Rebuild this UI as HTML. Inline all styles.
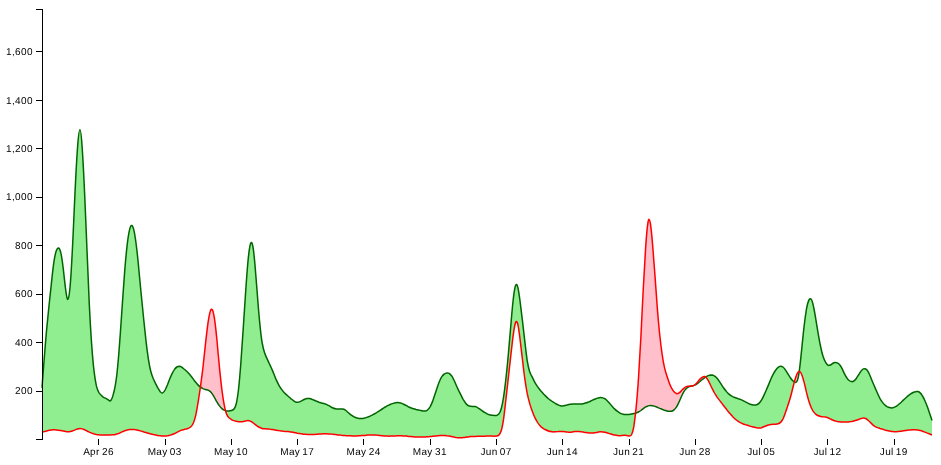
<!DOCTYPE html>
<html><head><meta charset="utf-8"><title>Difference Chart</title>
<style>
html,body{margin:0;padding:0;background:#fff;}
body{font:10px "Liberation Sans",Arial,sans-serif;}
svg{display:block;}
.axis path,.axis line{fill:none;stroke:#000;shape-rendering:crispEdges;}
.x.axis path{display:none;}
.axis text{font:10px "Liberation Sans",Arial,sans-serif;fill:#000;text-rendering:geometricPrecision;}
.y.axis text{letter-spacing:.44px;}
.x.axis text{letter-spacing:.3px;word-spacing:-.8px;}
 .x.axis tspan{letter-spacing:.44px;}
.line{fill:none;stroke-width:1.5px;}
</style></head><body>
<svg width="941" height="465" viewBox="0 0 941 465">
<defs>
<clipPath id="clip-below-green"><path d="M42.0,387.7C42.0,387.7,42.0,387.7,42.4,382.4C42.8,377.0,43.6,366.3,44.4,356.4C45.2,346.5,45.9,337.3,46.7,328.9C47.5,320.4,48.3,312.5,49.1,304.9C49.9,297.2,50.7,289.6,51.5,282.3C52.3,275.1,53.0,268.2,53.8,262.7C54.6,257.3,55.4,253.3,56.2,251.0C57.0,248.6,57.8,247.8,58.6,248.0C59.4,248.3,60.1,249.6,60.9,253.1C61.7,256.7,62.5,262.4,63.3,269.2C64.1,275.9,64.9,283.8,65.7,289.8C66.5,295.8,67.2,300.0,68.0,299.3C68.8,298.6,69.6,293.1,70.4,282.9C71.2,272.6,72.0,257.7,72.8,241.3C73.6,225.0,74.3,207.1,75.1,190.7C75.9,174.2,76.7,159.1,77.5,148.0C78.3,136.9,79.1,129.7,79.9,129.7C80.7,129.7,81.5,136.9,82.2,148.2C83.0,159.6,83.8,175.2,84.6,193.0C85.4,210.8,86.2,230.9,87.0,250.2C87.8,269.6,88.6,288.3,89.3,304.4C90.1,320.5,90.9,334.0,91.7,345.1C92.5,356.2,93.3,365.0,94.1,371.6C94.9,378.2,95.7,382.7,96.4,385.9C97.2,389.1,98.0,390.9,98.8,392.3C99.6,393.6,100.4,394.5,101.2,395.3C102.0,396.1,102.8,396.8,103.5,397.3C104.3,397.7,105.1,398.0,105.9,398.4C106.7,398.8,107.5,399.3,108.3,399.9C109.1,400.5,109.9,401.3,110.6,400.7C111.4,400.1,112.2,398.1,113.0,395.4C113.8,392.8,114.6,389.5,115.4,384.9C116.2,380.3,117.0,374.4,117.7,366.2C118.5,358.1,119.3,347.6,120.1,336.5C120.9,325.3,121.7,313.4,122.5,301.9C123.3,290.5,124.1,279.6,124.8,269.8C125.6,260.0,126.4,251.5,127.2,244.6C128.0,237.8,128.8,232.8,129.6,229.6C130.4,226.4,131.2,225.0,131.9,225.5C132.7,225.9,133.5,228.2,134.3,232.1C135.1,236.1,135.9,241.9,136.7,248.7C137.5,255.4,138.3,263.3,139.0,271.4C139.8,279.5,140.6,288.0,141.4,296.3C142.2,304.6,143.0,312.7,143.8,320.3C144.6,327.9,145.4,335.2,146.1,341.9C146.9,348.6,147.7,354.8,148.5,359.8C149.3,364.9,150.1,368.8,150.9,371.7C151.7,374.7,152.5,376.7,153.2,378.5C154.0,380.4,154.8,382.0,155.6,383.6C156.4,385.2,157.2,386.7,158.0,388.2C158.8,389.6,159.6,391.0,160.4,391.9C161.1,392.8,161.9,393.3,162.7,392.9C163.5,392.6,164.3,391.4,165.1,390.0C165.9,388.5,166.7,386.7,167.5,384.8C168.2,382.9,169.0,380.8,169.8,378.8C170.6,376.9,171.4,375.0,172.2,373.4C173.0,371.8,173.8,370.4,174.6,369.4C175.3,368.3,176.1,367.5,176.9,367.0C177.7,366.5,178.5,366.3,179.3,366.3C180.1,366.4,180.9,366.7,181.7,367.2C182.4,367.7,183.2,368.3,184.0,369.0C184.8,369.6,185.6,370.3,186.4,371.0C187.2,371.8,188.0,372.5,188.8,373.4C189.5,374.2,190.3,375.2,191.1,376.2C191.9,377.2,192.7,378.3,193.5,379.4C194.3,380.4,195.1,381.5,195.9,382.4C196.6,383.4,197.4,384.3,198.2,385.1C199.0,385.9,199.8,386.6,200.6,387.2C201.4,387.8,202.2,388.2,203.0,388.6C203.7,388.9,204.5,389.2,205.3,389.4C206.1,389.6,206.9,389.8,207.7,390.0C208.5,390.3,209.3,390.7,210.1,391.4C210.8,392.0,211.6,392.9,212.4,394.1C213.2,395.3,214.0,396.7,214.8,398.2C215.6,399.6,216.4,401.1,217.2,402.4C217.9,403.7,218.7,404.9,219.5,405.9C220.3,407.0,221.1,407.8,221.9,408.6C222.7,409.3,223.5,409.8,224.3,410.2C225.0,410.6,225.8,410.9,226.6,411.0C227.4,411.1,228.2,411.1,229.0,411.0C229.8,411.0,230.6,410.8,231.4,410.6C232.2,410.4,232.9,410.2,233.7,409.4C234.5,408.6,235.3,407.4,236.1,404.3C236.9,401.2,237.7,396.3,238.5,389.5C239.3,382.7,240.0,374.0,240.8,363.7C241.6,353.3,242.4,341.4,243.2,329.1C244.0,316.8,244.8,304.2,245.6,292.6C246.4,281.0,247.1,270.6,247.9,262.2C248.7,253.8,249.5,247.5,250.3,244.5C251.1,241.5,251.9,241.8,252.7,245.5C253.5,249.2,254.2,256.2,255.0,265.1C255.8,274.1,256.6,284.8,257.4,295.2C258.2,305.6,259.0,315.5,259.8,323.6C260.6,331.7,261.3,337.9,262.1,342.5C262.9,347.1,263.7,350.2,264.5,352.6C265.3,355.0,266.1,356.8,266.9,358.4C267.7,360.1,268.4,361.6,269.2,363.3C270.0,364.9,270.8,366.7,271.6,368.5C272.4,370.4,273.2,372.4,274.0,374.3C274.8,376.2,275.5,378.1,276.3,379.9C277.1,381.7,277.9,383.3,278.7,384.8C279.5,386.3,280.3,387.6,281.1,388.7C281.9,389.8,282.6,390.8,283.4,391.7C284.2,392.6,285.0,393.4,285.8,394.1C286.6,394.8,287.4,395.5,288.2,396.2C289.0,396.9,289.7,397.6,290.5,398.3C291.3,398.9,292.1,399.6,292.9,400.2C293.7,400.9,294.5,401.4,295.3,401.8C296.1,402.2,296.8,402.4,297.6,402.3C298.4,402.3,299.2,402.0,300.0,401.6C300.8,401.3,301.6,400.8,302.4,400.4C303.2,399.9,304.0,399.5,304.7,399.2C305.5,398.9,306.3,398.7,307.1,398.6C307.9,398.5,308.7,398.5,309.5,398.6C310.3,398.7,311.1,399.0,311.8,399.3C312.6,399.6,313.4,399.9,314.2,400.3C315.0,400.6,315.8,400.9,316.6,401.3C317.4,401.6,318.2,401.9,318.9,402.2C319.7,402.4,320.5,402.7,321.3,402.9C322.1,403.1,322.9,403.3,323.7,403.5C324.5,403.7,325.3,403.9,326.0,404.2C326.8,404.6,327.6,404.9,328.4,405.4C329.2,405.8,330.0,406.3,330.8,406.8C331.6,407.3,332.4,407.7,333.1,408.0C333.9,408.4,334.7,408.6,335.5,408.8C336.3,409.0,337.1,409.0,337.9,409.0C338.7,409.0,339.5,409.0,340.2,409.0C341.0,409.0,341.8,409.0,342.6,409.1C343.4,409.2,344.2,409.4,345.0,409.9C345.8,410.4,346.6,411.0,347.3,411.7C348.1,412.4,348.9,413.2,349.7,413.9C350.5,414.6,351.3,415.2,352.1,415.7C352.9,416.2,353.7,416.6,354.4,417.0C355.2,417.4,356.0,417.7,356.8,417.9C357.6,418.2,358.4,418.4,359.2,418.5C360.0,418.6,360.8,418.6,361.5,418.6C362.3,418.6,363.1,418.5,363.9,418.3C364.7,418.1,365.5,417.9,366.3,417.6C367.1,417.4,367.9,417.1,368.6,416.7C369.4,416.4,370.2,416.0,371.0,415.6C371.8,415.3,372.6,414.9,373.4,414.4C374.2,414.0,375.0,413.5,375.8,413.1C376.5,412.6,377.3,412.1,378.1,411.6C378.9,411.1,379.7,410.6,380.5,410.1C381.3,409.5,382.1,409.0,382.9,408.5C383.6,408.0,384.4,407.5,385.2,407.0C386.0,406.6,386.8,406.1,387.6,405.7C388.4,405.3,389.2,404.9,390.0,404.5C390.7,404.2,391.5,403.9,392.3,403.6C393.1,403.3,393.9,403.1,394.7,402.9C395.5,402.7,396.3,402.6,397.1,402.6C397.8,402.6,398.6,402.6,399.4,402.8C400.2,402.9,401.0,403.1,401.8,403.4C402.6,403.7,403.4,404.1,404.2,404.5C404.9,404.9,405.7,405.3,406.5,405.7C407.3,406.1,408.1,406.6,408.9,407.0C409.7,407.4,410.5,407.7,411.3,408.0C412.0,408.3,412.8,408.6,413.6,408.8C414.4,409.0,415.2,409.2,416.0,409.4C416.8,409.5,417.6,409.7,418.4,409.9C419.1,410.1,419.9,410.3,420.7,410.5C421.5,410.7,422.3,410.9,423.1,411.0C423.9,411.1,424.7,411.2,425.5,411.0C426.2,410.8,427.0,410.4,427.8,409.7C428.6,409.0,429.4,407.9,430.2,406.6C431.0,405.2,431.8,403.4,432.6,401.4C433.3,399.4,434.1,397.0,434.9,394.6C435.7,392.2,436.5,389.6,437.3,387.2C438.1,384.8,438.9,382.6,439.7,380.8C440.4,379.0,441.2,377.5,442.0,376.4C442.8,375.3,443.6,374.5,444.4,374.0C445.2,373.4,446.0,373.1,446.8,373.0C447.5,372.8,448.3,372.9,449.1,373.3C449.9,373.8,450.7,374.6,451.5,375.7C452.3,376.9,453.1,378.4,453.9,380.0C454.7,381.6,455.4,383.4,456.2,385.2C457.0,387.0,457.8,388.7,458.6,390.4C459.4,392.0,460.2,393.6,461.0,395.1C461.8,396.7,462.5,398.2,463.3,399.6C464.1,400.9,464.9,402.2,465.7,403.2C466.5,404.2,467.3,405.0,468.1,405.5C468.9,405.9,469.6,406.2,470.4,406.3C471.2,406.4,472.0,406.4,472.8,406.4C473.6,406.4,474.4,406.4,475.2,406.6C476.0,406.8,476.7,407.1,477.5,407.6C478.3,408.0,479.1,408.5,479.9,409.1C480.7,409.7,481.5,410.3,482.3,410.8C483.1,411.4,483.8,411.9,484.6,412.4C485.4,412.9,486.2,413.4,487.0,413.8C487.8,414.2,488.6,414.5,489.4,414.7C490.2,415.0,490.9,415.1,491.7,415.2C492.5,415.3,493.3,415.3,494.1,415.4C494.9,415.4,495.7,415.5,496.5,415.4C497.3,415.3,498.0,415.0,498.8,414.1C499.6,413.2,500.4,411.6,501.2,408.7C502.0,405.9,502.8,401.8,503.6,396.8C504.4,391.8,505.1,385.8,505.9,378.9C506.7,371.9,507.5,363.9,508.3,354.9C509.1,346.0,509.9,336.1,510.7,326.8C511.5,317.5,512.2,308.8,513.0,301.5C513.8,294.3,514.6,288.6,515.4,286.1C516.2,283.5,517.0,284.1,517.8,287.1C518.6,290.2,519.3,295.6,520.1,301.6C520.9,307.7,521.7,314.2,522.5,321.1C523.3,328.0,524.1,335.3,524.9,342.2C525.7,349.1,526.5,355.8,527.2,360.7C528.0,365.7,528.8,369.0,529.6,371.4C530.4,373.7,531.2,375.2,532.0,376.7C532.8,378.3,533.6,379.9,534.3,381.4C535.1,382.9,535.9,384.2,536.7,385.4C537.5,386.6,538.3,387.7,539.1,388.7C539.9,389.7,540.7,390.7,541.4,391.6C542.2,392.5,543.0,393.4,543.8,394.3C544.6,395.1,545.4,395.9,546.2,396.6C547.0,397.4,547.8,398.1,548.5,398.7C549.3,399.4,550.1,400.0,550.9,400.5C551.7,401.1,552.5,401.6,553.3,402.1C554.1,402.6,554.9,403.1,555.6,403.6C556.4,404.0,557.2,404.5,558.0,404.8C558.8,405.2,559.6,405.5,560.4,405.7C561.2,405.9,562.0,406.0,562.7,405.9C563.5,405.9,564.3,405.7,565.1,405.5C565.9,405.3,566.7,405.1,567.5,404.9C568.3,404.6,569.1,404.5,569.8,404.3C570.6,404.2,571.4,404.1,572.2,404.0C573.0,403.9,573.8,403.9,574.6,403.9C575.4,403.9,576.2,403.9,576.9,403.9C577.7,404.0,578.5,404.0,579.3,404.0C580.1,404.0,580.9,404.0,581.7,403.9C582.5,403.8,583.3,403.7,584.0,403.5C584.8,403.3,585.6,403.1,586.4,402.8C587.2,402.6,588.0,402.2,588.8,401.9C589.6,401.6,590.4,401.2,591.1,400.8C591.9,400.5,592.7,400.1,593.5,399.7C594.3,399.4,595.1,399.0,595.9,398.7C596.7,398.4,597.5,398.2,598.2,398.0C599.0,397.8,599.8,397.6,600.6,397.6C601.4,397.6,602.2,397.6,603.0,397.9C603.8,398.1,604.6,398.5,605.4,399.0C606.1,399.6,606.9,400.3,607.7,401.2C608.5,402.0,609.3,403.0,610.1,403.9C610.9,404.9,611.7,405.8,612.5,406.7C613.2,407.5,614.0,408.4,614.8,409.1C615.6,409.9,616.4,410.6,617.2,411.2C618.0,411.8,618.8,412.4,619.6,412.8C620.3,413.3,621.1,413.6,621.9,413.9C622.7,414.2,623.5,414.4,624.3,414.5C625.1,414.6,625.9,414.6,626.7,414.6C627.4,414.6,628.2,414.5,629.0,414.4C629.8,414.3,630.6,414.2,631.4,414.0C632.2,413.9,633.0,413.7,633.8,413.6C634.5,413.4,635.3,413.2,636.1,412.9C636.9,412.7,637.7,412.4,638.5,412.0C639.3,411.6,640.1,411.1,640.9,410.5C641.6,409.9,642.4,409.2,643.2,408.6C644.0,408.0,644.8,407.4,645.6,406.9C646.4,406.4,647.2,406.1,648.0,405.9C648.7,405.6,649.5,405.5,650.3,405.5C651.1,405.5,651.9,405.6,652.7,405.7C653.5,405.9,654.3,406.1,655.1,406.4C655.8,406.7,656.6,407.0,657.4,407.3C658.2,407.7,659.0,408.0,659.8,408.4C660.6,408.7,661.4,409.0,662.2,409.3C662.9,409.7,663.7,409.9,664.5,410.2C665.3,410.4,666.1,410.7,666.9,410.9C667.7,411.1,668.5,411.2,669.3,411.3C670.0,411.4,670.8,411.4,671.6,411.2C672.4,411.0,673.2,410.6,674.0,409.9C674.8,409.2,675.6,408.3,676.4,407.1C677.2,405.9,677.9,404.4,678.7,402.7C679.5,401.0,680.3,399.0,681.1,397.2C681.9,395.3,682.7,393.7,683.5,392.3C684.3,391.0,685.0,390.0,685.8,389.1C686.6,388.3,687.4,387.7,688.2,387.2C689.0,386.8,689.8,386.5,690.6,386.3C691.4,386.1,692.1,386.0,692.9,385.8C693.7,385.6,694.5,385.3,695.3,384.9C696.1,384.5,696.9,383.9,697.7,383.4C698.5,382.8,699.2,382.1,700.0,381.5C700.8,380.8,701.6,380.1,702.4,379.5C703.2,378.9,704.0,378.2,704.8,377.7C705.6,377.1,706.3,376.6,707.1,376.2C707.9,375.8,708.7,375.5,709.5,375.3C710.3,375.1,711.1,375.1,711.9,375.1C712.7,375.2,713.4,375.4,714.2,375.8C715.0,376.2,715.8,376.8,716.6,377.7C717.4,378.6,718.2,379.6,719.0,380.8C719.8,382.0,720.5,383.2,721.3,384.4C722.1,385.6,722.9,386.9,723.7,388.0C724.5,389.1,725.3,390.2,726.1,391.1C726.9,392.1,727.6,392.9,728.4,393.6C729.2,394.4,730.0,395.0,730.8,395.5C731.6,396.1,732.4,396.5,733.2,396.9C734.0,397.2,734.7,397.6,735.5,397.8C736.3,398.1,737.1,398.4,737.9,398.6C738.7,398.9,739.5,399.1,740.3,399.4C741.1,399.7,741.8,400.1,742.6,400.4C743.4,400.8,744.2,401.2,745.0,401.7C745.8,402.1,746.6,402.5,747.4,402.9C748.2,403.3,749.0,403.7,749.7,404.0C750.5,404.3,751.3,404.6,752.1,404.8C752.9,405.0,753.7,405.1,754.5,405.1C755.3,405.1,756.1,405.1,756.8,404.7C757.6,404.4,758.4,403.9,759.2,403.1C760.0,402.3,760.8,401.2,761.6,399.9C762.4,398.6,763.2,397.1,763.9,395.4C764.7,393.7,765.5,391.9,766.3,390.0C767.1,388.2,767.9,386.3,768.7,384.4C769.5,382.5,770.3,380.6,771.0,378.8C771.8,377.0,772.6,375.4,773.4,373.9C774.2,372.4,775.0,371.1,775.8,370.0C776.6,368.9,777.4,368.0,778.1,367.4C778.9,366.7,779.7,366.3,780.5,366.2C781.3,366.1,782.1,366.4,782.9,367.0C783.7,367.6,784.5,368.5,785.2,369.6C786.0,370.8,786.8,372.1,787.6,373.4C788.4,374.7,789.2,376.0,790.0,377.2C790.8,378.3,791.6,379.4,792.3,380.2C793.1,381.1,793.9,381.8,794.7,382.2C795.5,382.6,796.3,382.7,797.1,381.0C797.9,379.3,798.7,375.8,799.4,370.1C800.2,364.3,801.0,356.4,801.8,348.4C802.6,340.3,803.4,332.3,804.2,325.4C805.0,318.6,805.8,313.0,806.5,308.8C807.3,304.5,808.1,301.7,808.9,300.1C809.7,298.5,810.5,298.2,811.3,299.4C812.1,300.6,812.9,303.3,813.6,307.0C814.4,310.7,815.2,315.4,816.0,320.3C816.8,325.2,817.6,330.3,818.4,334.9C819.2,339.6,820.0,343.9,820.8,347.5C821.5,351.1,822.3,354.1,823.1,356.4C823.9,358.8,824.7,360.6,825.5,362.1C826.3,363.5,827.1,364.6,827.9,365.1C828.6,365.6,829.4,365.4,830.2,365.0C831.0,364.6,831.8,364.0,832.6,363.5C833.4,363.0,834.2,362.6,835.0,362.5C835.7,362.4,836.5,362.6,837.3,362.9C838.1,363.3,838.9,363.8,839.7,364.8C840.5,365.7,841.3,367.1,842.1,368.6C842.8,370.2,843.6,372.0,844.4,373.6C845.2,375.2,846.0,376.7,846.8,377.8C847.6,379.0,848.4,379.9,849.2,380.5C849.9,381.1,850.7,381.5,851.5,381.6C852.3,381.7,853.1,381.5,853.9,381.0C854.7,380.4,855.5,379.6,856.3,378.5C857.0,377.5,857.8,376.1,858.6,374.8C859.4,373.5,860.2,372.2,861.0,371.1C861.8,370.1,862.6,369.3,863.4,368.9C864.1,368.6,864.9,368.6,865.7,369.0C866.5,369.4,867.3,370.3,868.1,371.6C868.9,373.0,869.7,374.8,870.5,376.7C871.2,378.6,872.0,380.6,872.8,382.5C873.6,384.4,874.4,386.2,875.2,388.1C876.0,389.9,876.8,391.7,877.6,393.5C878.3,395.2,879.1,396.8,879.9,398.3C880.7,399.7,881.5,401.0,882.3,402.1C883.1,403.2,883.9,404.1,884.7,404.8C885.4,405.6,886.2,406.1,887.0,406.6C887.8,407.0,888.6,407.4,889.4,407.6C890.2,407.8,891.0,407.9,891.8,407.9C892.5,407.9,893.3,407.7,894.1,407.4C894.9,407.1,895.7,406.6,896.5,406.1C897.3,405.6,898.1,405.0,898.9,404.3C899.7,403.6,900.4,402.9,901.2,402.2C902.0,401.4,902.8,400.7,903.6,399.9C904.4,399.2,905.2,398.4,906.0,397.7C906.8,397.0,907.5,396.3,908.3,395.7C909.1,395.0,909.9,394.5,910.7,393.9C911.5,393.4,912.3,392.9,913.1,392.5C913.9,392.1,914.6,391.8,915.4,391.7C916.2,391.5,917.0,391.4,917.8,391.6C918.6,391.8,919.4,392.1,920.2,392.9C921.0,393.6,921.7,394.6,922.5,396.0C923.3,397.3,924.1,398.9,924.9,400.7C925.7,402.5,926.5,404.5,927.3,406.6C928.1,408.7,928.8,411.0,929.6,413.3C930.4,415.6,931.2,418.0,931.6,419.2C932.0,420.4,932.0,420.4,932.0,420.4L932.00,469.00L42.00,469.00Z"/></clipPath>
<clipPath id="clip-below-red"><path d="M42.0,431.9C42.0,431.9,42.0,431.9,42.4,431.8C42.8,431.8,43.6,431.6,44.4,431.5C45.2,431.3,45.9,431.1,46.7,430.9C47.5,430.7,48.3,430.5,49.1,430.3C49.9,430.1,50.7,430.0,51.5,429.9C52.3,429.9,53.0,429.8,53.8,429.8C54.6,429.8,55.4,429.9,56.2,429.9C57.0,430.0,57.8,430.1,58.6,430.2C59.4,430.3,60.1,430.4,60.9,430.6C61.7,430.8,62.5,430.9,63.3,431.1C64.1,431.3,64.9,431.5,65.7,431.6C66.5,431.8,67.2,431.8,68.0,431.8C68.8,431.8,69.6,431.7,70.4,431.5C71.2,431.4,72.0,431.1,72.8,430.8C73.6,430.5,74.3,430.2,75.1,429.9C75.9,429.5,76.7,429.2,77.5,429.0C78.3,428.8,79.1,428.6,79.9,428.6C80.7,428.6,81.5,428.7,82.2,428.9C83.0,429.2,83.8,429.5,84.6,429.8C85.4,430.2,86.2,430.6,87.0,431.0C87.8,431.4,88.6,431.7,89.3,432.1C90.1,432.4,90.9,432.8,91.7,433.1C92.5,433.4,93.3,433.6,94.1,433.9C94.9,434.1,95.7,434.3,96.4,434.5C97.2,434.6,98.0,434.7,98.8,434.8C99.6,434.9,100.4,434.9,101.2,435.0C102.0,435.0,102.8,435.0,103.5,435.0C104.3,435.0,105.1,434.9,105.9,434.9C106.7,434.9,107.5,434.9,108.3,434.9C109.1,434.9,109.9,434.9,110.6,434.9C111.4,434.9,112.2,434.8,113.0,434.8C113.8,434.7,114.6,434.6,115.4,434.4C116.2,434.2,117.0,434.0,117.7,433.8C118.5,433.5,119.3,433.2,120.1,432.8C120.9,432.5,121.7,432.1,122.5,431.7C123.3,431.3,124.1,431.0,124.8,430.7C125.6,430.3,126.4,430.1,127.2,429.9C128.0,429.7,128.8,429.6,129.6,429.5C130.4,429.4,131.2,429.4,131.9,429.4C132.7,429.4,133.5,429.5,134.3,429.6C135.1,429.6,135.9,429.8,136.7,429.9C137.5,430.1,138.3,430.3,139.0,430.5C139.8,430.7,140.6,430.9,141.4,431.1C142.2,431.4,143.0,431.6,143.8,431.9C144.6,432.1,145.4,432.4,146.1,432.6C146.9,432.8,147.7,433.1,148.5,433.3C149.3,433.5,150.1,433.7,150.9,433.9C151.7,434.1,152.5,434.3,153.2,434.5C154.0,434.7,154.8,434.9,155.6,435.0C156.4,435.2,157.2,435.3,158.0,435.5C158.8,435.6,159.6,435.7,160.4,435.8C161.1,435.9,161.9,436.0,162.7,436.0C163.5,436.0,164.3,436.0,165.1,436.0C165.9,436.0,166.7,435.9,167.5,435.8C168.2,435.6,169.0,435.5,169.8,435.3C170.6,435.0,171.4,434.8,172.2,434.5C173.0,434.2,173.8,433.8,174.6,433.5C175.3,433.1,176.1,432.7,176.9,432.3C177.7,431.9,178.5,431.5,179.3,431.1C180.1,430.7,180.9,430.4,181.7,430.1C182.4,429.9,183.2,429.6,184.0,429.5C184.8,429.3,185.6,429.2,186.4,428.9C187.2,428.7,188.0,428.5,188.8,428.1C189.5,427.7,190.3,427.3,191.1,426.5C191.9,425.7,192.7,424.6,193.5,422.7C194.3,420.8,195.1,418.2,195.9,414.6C196.6,411.1,197.4,406.6,198.2,401.7C199.0,396.8,199.8,391.4,200.6,385.7C201.4,379.9,202.2,373.9,203.0,367.2C203.7,360.5,204.5,353.1,205.3,345.7C206.1,338.4,206.9,331.1,207.7,325.2C208.5,319.2,209.3,314.6,210.1,311.9C210.8,309.2,211.6,308.4,212.4,309.9C213.2,311.4,214.0,315.1,214.8,320.9C215.6,326.7,216.4,334.5,217.2,342.8C217.9,351.1,218.7,359.8,219.5,367.9C220.3,376.0,221.1,383.4,221.9,389.8C222.7,396.1,223.5,401.3,224.3,405.4C225.0,409.4,225.8,412.2,226.6,414.1C227.4,416.0,228.2,417.0,229.0,417.8C229.8,418.5,230.6,419.0,231.4,419.5C232.2,419.9,232.9,420.3,233.7,420.6C234.5,420.9,235.3,421.1,236.1,421.3C236.9,421.5,237.7,421.7,238.5,421.7C239.3,421.8,240.0,421.8,240.8,421.8C241.6,421.7,242.4,421.6,243.2,421.4C244.0,421.2,244.8,421.0,245.6,420.9C246.4,420.7,247.1,420.6,247.9,420.6C248.7,420.6,249.5,420.8,250.3,421.1C251.1,421.5,251.9,422.0,252.7,422.5C253.5,423.1,254.2,423.7,255.0,424.4C255.8,425.0,256.6,425.6,257.4,426.1C258.2,426.7,259.0,427.2,259.8,427.5C260.6,427.9,261.3,428.2,262.1,428.4C262.9,428.6,263.7,428.7,264.5,428.8C265.3,428.8,266.1,428.9,266.9,428.9C267.7,429.0,268.4,429.0,269.2,429.1C270.0,429.2,270.8,429.3,271.6,429.4C272.4,429.5,273.2,429.7,274.0,429.8C274.8,429.9,275.5,430.1,276.3,430.2C277.1,430.4,277.9,430.5,278.7,430.6C279.5,430.7,280.3,430.8,281.1,430.9C281.9,431.0,282.6,431.1,283.4,431.2C284.2,431.2,285.0,431.3,285.8,431.4C286.6,431.5,287.4,431.5,288.2,431.6C289.0,431.7,289.7,431.8,290.5,431.9C291.3,432.0,292.1,432.2,292.9,432.3C293.7,432.4,294.5,432.6,295.3,432.7C296.1,432.9,296.8,433.0,297.6,433.2C298.4,433.3,299.2,433.4,300.0,433.6C300.8,433.7,301.6,433.8,302.4,433.9C303.2,434.0,304.0,434.1,304.7,434.2C305.5,434.3,306.3,434.3,307.1,434.4C307.9,434.4,308.7,434.5,309.5,434.5C310.3,434.5,311.1,434.5,311.8,434.5C312.6,434.5,313.4,434.5,314.2,434.4C315.0,434.4,315.8,434.4,316.6,434.3C317.4,434.2,318.2,434.2,318.9,434.1C319.7,434.1,320.5,434.0,321.3,433.9C322.1,433.9,322.9,433.9,323.7,433.8C324.5,433.8,325.3,433.8,326.0,433.8C326.8,433.8,327.6,433.8,328.4,433.9C329.2,433.9,330.0,434.0,330.8,434.1C331.6,434.1,332.4,434.2,333.1,434.3C333.9,434.4,334.7,434.5,335.5,434.6C336.3,434.7,337.1,434.8,337.9,434.9C338.7,435.0,339.5,435.0,340.2,435.1C341.0,435.2,341.8,435.3,342.6,435.4C343.4,435.4,344.2,435.5,345.0,435.5C345.8,435.6,346.6,435.7,347.3,435.7C348.1,435.7,348.9,435.8,349.7,435.8C350.5,435.8,351.3,435.9,352.1,435.9C352.9,435.9,353.7,435.9,354.4,435.9C355.2,435.9,356.0,435.9,356.8,435.9C357.6,435.9,358.4,435.8,359.2,435.8C360.0,435.8,360.8,435.7,361.5,435.6C362.3,435.6,363.1,435.5,363.9,435.4C364.7,435.4,365.5,435.3,366.3,435.2C367.1,435.1,367.9,435.1,368.6,435.0C369.4,435.0,370.2,434.9,371.0,434.9C371.8,434.9,372.6,434.9,373.4,434.9C374.2,434.9,375.0,435.0,375.8,435.0C376.5,435.1,377.3,435.2,378.1,435.3C378.9,435.4,379.7,435.4,380.5,435.5C381.3,435.6,382.1,435.7,382.9,435.8C383.6,435.9,384.4,436.0,385.2,436.0C386.0,436.1,386.8,436.1,387.6,436.1C388.4,436.2,389.2,436.2,390.0,436.1C390.7,436.1,391.5,436.1,392.3,436.1C393.1,436.0,393.9,436.0,394.7,436.0C395.5,435.9,396.3,435.9,397.1,435.8C397.8,435.8,398.6,435.8,399.4,435.8C400.2,435.8,401.0,435.8,401.8,435.8C402.6,435.9,403.4,435.9,404.2,436.0C404.9,436.0,405.7,436.1,406.5,436.1C407.3,436.2,408.1,436.3,408.9,436.4C409.7,436.5,410.5,436.5,411.3,436.6C412.0,436.7,412.8,436.8,413.6,436.8C414.4,436.9,415.2,436.9,416.0,437.0C416.8,437.0,417.6,437.0,418.4,437.0C419.1,437.1,419.9,437.1,420.7,437.1C421.5,437.0,422.3,437.0,423.1,437.0C423.9,437.0,424.7,436.9,425.5,436.9C426.2,436.8,427.0,436.8,427.8,436.7C428.6,436.7,429.4,436.6,430.2,436.5C431.0,436.4,431.8,436.4,432.6,436.3C433.3,436.2,434.1,436.1,434.9,436.0C435.7,435.9,436.5,435.9,437.3,435.8C438.1,435.7,438.9,435.7,439.7,435.6C440.4,435.6,441.2,435.5,442.0,435.5C442.8,435.5,443.6,435.5,444.4,435.5C445.2,435.5,446.0,435.6,446.8,435.7C447.5,435.7,448.3,435.8,449.1,435.9C449.9,436.1,450.7,436.2,451.5,436.4C452.3,436.6,453.1,436.8,453.9,437.0C454.7,437.1,455.4,437.3,456.2,437.5C457.0,437.6,457.8,437.7,458.6,437.7C459.4,437.8,460.2,437.8,461.0,437.8C461.8,437.7,462.5,437.7,463.3,437.6C464.1,437.5,464.9,437.4,465.7,437.3C466.5,437.2,467.3,437.0,468.1,436.9C468.9,436.8,469.6,436.7,470.4,436.6C471.2,436.5,472.0,436.5,472.8,436.4C473.6,436.4,474.4,436.4,475.2,436.4C476.0,436.3,476.7,436.3,477.5,436.3C478.3,436.3,479.1,436.3,479.9,436.3C480.7,436.3,481.5,436.3,482.3,436.2C483.1,436.2,483.8,436.2,484.6,436.2C485.4,436.1,486.2,436.1,487.0,436.1C487.8,436.1,488.6,436.1,489.4,436.1C490.2,436.1,490.9,436.1,491.7,436.1C492.5,436.2,493.3,436.2,494.1,436.2C494.9,436.2,495.7,436.2,496.5,436.1C497.3,436.0,498.0,435.8,498.8,435.1C499.6,434.4,500.4,433.3,501.2,430.8C502.0,428.2,502.8,424.3,503.6,418.8C504.4,413.4,505.1,406.5,505.9,399.5C506.7,392.5,507.5,385.4,508.3,378.1C509.1,370.9,509.9,363.6,510.7,356.6C511.5,349.6,512.2,342.9,513.0,336.8C513.8,330.8,514.6,325.5,515.4,323.0C516.2,320.6,517.0,321.0,517.8,324.2C518.6,327.3,519.3,333.1,520.1,339.6C520.9,346.0,521.7,353.1,522.5,360.0C523.3,366.9,524.1,373.7,524.9,379.3C525.7,385.0,526.5,389.6,527.2,393.4C528.0,397.2,528.8,400.3,529.6,403.1C530.4,405.9,531.2,408.4,532.0,410.6C532.8,412.8,533.6,414.7,534.3,416.4C535.1,418.1,535.9,419.7,536.7,421.0C537.5,422.4,538.3,423.6,539.1,424.6C539.9,425.6,540.7,426.4,541.4,427.1C542.2,427.8,543.0,428.3,543.8,428.8C544.6,429.2,545.4,429.7,546.2,430.0C547.0,430.4,547.8,430.8,548.5,431.0C549.3,431.3,550.1,431.5,550.9,431.6C551.7,431.8,552.5,431.8,553.3,431.9C554.1,431.9,554.9,431.8,555.6,431.8C556.4,431.7,557.2,431.6,558.0,431.6C558.8,431.5,559.6,431.4,560.4,431.4C561.2,431.4,562.0,431.4,562.7,431.4C563.5,431.5,564.3,431.6,565.1,431.7C565.9,431.8,566.7,432.0,567.5,432.1C568.3,432.1,569.1,432.2,569.8,432.2C570.6,432.2,571.4,432.1,572.2,432.0C573.0,431.9,573.8,431.8,574.6,431.6C575.4,431.5,576.2,431.4,576.9,431.4C577.7,431.4,578.5,431.4,579.3,431.4C580.1,431.5,580.9,431.6,581.7,431.8C582.5,431.9,583.3,432.0,584.0,432.2C584.8,432.3,585.6,432.5,586.4,432.6C587.2,432.8,588.0,432.9,588.8,432.9C589.6,433.0,590.4,433.0,591.1,433.0C591.9,433.0,592.7,433.0,593.5,432.9C594.3,432.8,595.1,432.6,595.9,432.5C596.7,432.3,597.5,432.2,598.2,432.1C599.0,431.9,599.8,431.8,600.6,431.8C601.4,431.8,602.2,431.8,603.0,431.9C603.8,432.0,604.6,432.1,605.4,432.3C606.1,432.5,606.9,432.7,607.7,433.0C608.5,433.2,609.3,433.5,610.1,433.7C610.9,434.0,611.7,434.3,612.5,434.5C613.2,434.7,614.0,435.0,614.8,435.1C615.6,435.3,616.4,435.5,617.2,435.6C618.0,435.7,618.8,435.8,619.6,435.7C620.3,435.7,621.1,435.7,621.9,435.6C622.7,435.5,623.5,435.4,624.3,435.3C625.1,435.2,625.9,435.2,626.7,435.4C627.4,435.5,628.2,435.7,629.0,435.9C629.8,436.0,630.6,436.0,631.4,434.8C632.2,433.5,633.0,431.0,633.8,426.6C634.5,422.2,635.3,416.0,636.1,407.9C636.9,399.8,637.7,389.9,638.5,378.0C639.3,366.0,640.1,352.1,640.9,337.0C641.6,321.9,642.4,305.7,643.2,290.3C644.0,274.9,644.8,260.3,645.6,248.3C646.4,236.3,647.2,226.9,648.0,222.5C648.7,218.0,649.5,218.5,650.3,223.0C651.1,227.6,651.9,236.1,652.7,245.9C653.5,255.6,654.3,266.5,655.1,277.4C655.8,288.3,656.6,299.2,657.4,309.1C658.2,319.0,659.0,327.9,659.8,335.5C660.6,343.1,661.4,349.5,662.2,354.7C662.9,360.0,663.7,364.2,664.5,367.6C665.3,371.0,666.1,373.6,666.9,376.1C667.7,378.5,668.5,380.8,669.3,382.9C670.0,384.9,670.8,386.6,671.6,388.1C672.4,389.5,673.2,390.8,674.0,391.7C674.8,392.6,675.6,393.3,676.4,393.5C677.2,393.8,677.9,393.6,678.7,393.1C679.5,392.7,680.3,391.9,681.1,391.1C681.9,390.3,682.7,389.4,683.5,388.6C684.3,387.9,685.0,387.3,685.8,386.9C686.6,386.5,687.4,386.3,688.2,386.2C689.0,386.1,689.8,386.1,690.6,386.1C691.4,386.1,692.1,386.1,692.9,385.9C693.7,385.6,694.5,385.2,695.3,384.5C696.1,383.9,696.9,382.9,697.7,381.9C698.5,381.0,699.2,380.0,700.0,379.1C700.8,378.3,701.6,377.5,702.4,377.1C703.2,376.6,704.0,376.4,704.8,376.6C705.6,376.8,706.3,377.6,707.1,378.7C707.9,379.9,708.7,381.4,709.5,383.0C710.3,384.7,711.1,386.4,711.9,388.0C712.7,389.6,713.4,391.1,714.2,392.5C715.0,393.9,715.8,395.2,716.6,396.3C717.4,397.5,718.2,398.6,719.0,399.6C719.8,400.6,720.5,401.6,721.3,402.6C722.1,403.7,722.9,404.7,723.7,405.7C724.5,406.7,725.3,407.7,726.1,408.7C726.9,409.8,727.6,410.8,728.4,411.8C729.2,412.8,730.0,413.7,730.8,414.6C731.6,415.5,732.4,416.4,733.2,417.2C734.0,418.0,734.7,418.7,735.5,419.3C736.3,420.0,737.1,420.6,737.9,421.1C738.7,421.7,739.5,422.1,740.3,422.6C741.1,423.0,741.8,423.3,742.6,423.7C743.4,424.0,744.2,424.3,745.0,424.6C745.8,424.9,746.6,425.1,747.4,425.3C748.2,425.6,749.0,425.8,749.7,426.0C750.5,426.2,751.3,426.5,752.1,426.7C752.9,426.9,753.7,427.1,754.5,427.3C755.3,427.5,756.1,427.6,756.8,427.8C757.6,427.9,758.4,428.0,759.2,428.0C760.0,428.0,760.8,427.9,761.6,427.7C762.4,427.4,763.2,427.1,763.9,426.8C764.7,426.5,765.5,426.1,766.3,425.8C767.1,425.5,767.9,425.2,768.7,424.9C769.5,424.7,770.3,424.6,771.0,424.5C771.8,424.4,772.6,424.3,773.4,424.3C774.2,424.3,775.0,424.3,775.8,424.2C776.6,424.2,777.4,424.1,778.1,423.8C778.9,423.6,779.7,423.2,780.5,422.4C781.3,421.7,782.1,420.6,782.9,419.1C783.7,417.5,784.5,415.5,785.2,413.3C786.0,411.1,786.8,408.7,787.6,406.3C788.4,403.9,789.2,401.4,790.0,398.7C790.8,396.0,791.6,393.1,792.3,390.0C793.1,386.8,793.9,383.6,794.7,380.8C795.5,377.9,796.3,375.6,797.1,373.9C797.9,372.2,798.7,371.2,799.4,371.3C800.2,371.5,801.0,372.7,801.8,374.7C802.6,376.8,803.4,379.5,804.2,382.6C805.0,385.8,805.8,389.2,806.5,392.4C807.3,395.6,808.1,398.7,808.9,401.3C809.7,403.9,810.5,406.0,811.3,407.7C812.1,409.5,812.9,410.8,813.6,411.9C814.4,412.9,815.2,413.7,816.0,414.4C816.8,415.0,817.6,415.5,818.4,415.8C819.2,416.1,820.0,416.3,820.8,416.4C821.5,416.5,822.3,416.6,823.1,416.7C823.9,416.7,824.7,416.8,825.5,417.0C826.3,417.2,827.1,417.4,827.9,417.7C828.6,418.0,829.4,418.4,830.2,418.8C831.0,419.2,831.8,419.7,832.6,420.0C833.4,420.4,834.2,420.7,835.0,420.9C835.7,421.2,836.5,421.3,837.3,421.5C838.1,421.6,838.9,421.7,839.7,421.8C840.5,421.9,841.3,422.0,842.1,422.0C842.8,422.1,843.6,422.1,844.4,422.1C845.2,422.1,846.0,422.1,846.8,422.1C847.6,422.0,848.4,421.9,849.2,421.8C849.9,421.8,850.7,421.6,851.5,421.5C852.3,421.3,853.1,421.2,853.9,421.0C854.7,420.8,855.5,420.6,856.3,420.3C857.0,420.1,857.8,419.8,858.6,419.5C859.4,419.2,860.2,418.8,861.0,418.6C861.8,418.3,862.6,418.0,863.4,418.0C864.1,417.9,864.9,418.1,865.7,418.5C866.5,418.9,867.3,419.5,868.1,420.2C868.9,420.9,869.7,421.8,870.5,422.6C871.2,423.4,872.0,424.3,872.8,424.9C873.6,425.6,874.4,426.2,875.2,426.6C876.0,427.0,876.8,427.3,877.6,427.6C878.3,427.9,879.1,428.1,879.9,428.4C880.7,428.6,881.5,428.9,882.3,429.1C883.1,429.4,883.9,429.6,884.7,429.9C885.4,430.1,886.2,430.4,887.0,430.6C887.8,430.8,888.6,430.9,889.4,431.1C890.2,431.3,891.0,431.4,891.8,431.5C892.5,431.6,893.3,431.6,894.1,431.7C894.9,431.7,895.7,431.7,896.5,431.7C897.3,431.6,898.1,431.6,898.9,431.5C899.7,431.4,900.4,431.3,901.2,431.2C902.0,431.0,902.8,430.9,903.6,430.8C904.4,430.7,905.2,430.5,906.0,430.4C906.8,430.3,907.5,430.2,908.3,430.1C909.1,430.0,909.9,430.0,910.7,429.9C911.5,429.9,912.3,429.8,913.1,429.8C913.9,429.8,914.6,429.8,915.4,429.8C916.2,429.9,917.0,429.9,917.8,430.0C918.6,430.1,919.4,430.3,920.2,430.5C921.0,430.7,921.7,430.9,922.5,431.2C923.3,431.5,924.1,431.8,924.9,432.1C925.7,432.4,926.5,432.7,927.3,433.1C928.1,433.4,928.8,433.7,929.6,434.0C930.4,434.3,931.2,434.6,931.6,434.8C932.0,434.9,932.0,434.9,932.0,434.9L932.00,469.00L42.00,469.00Z"/></clipPath>
</defs>
<path fill="lightgreen" clip-path="url(#clip-below-green)" d="M42.0,431.9C42.0,431.9,42.0,431.9,42.4,431.8C42.8,431.8,43.6,431.6,44.4,431.5C45.2,431.3,45.9,431.1,46.7,430.9C47.5,430.7,48.3,430.5,49.1,430.3C49.9,430.1,50.7,430.0,51.5,429.9C52.3,429.9,53.0,429.8,53.8,429.8C54.6,429.8,55.4,429.9,56.2,429.9C57.0,430.0,57.8,430.1,58.6,430.2C59.4,430.3,60.1,430.4,60.9,430.6C61.7,430.8,62.5,430.9,63.3,431.1C64.1,431.3,64.9,431.5,65.7,431.6C66.5,431.8,67.2,431.8,68.0,431.8C68.8,431.8,69.6,431.7,70.4,431.5C71.2,431.4,72.0,431.1,72.8,430.8C73.6,430.5,74.3,430.2,75.1,429.9C75.9,429.5,76.7,429.2,77.5,429.0C78.3,428.8,79.1,428.6,79.9,428.6C80.7,428.6,81.5,428.7,82.2,428.9C83.0,429.2,83.8,429.5,84.6,429.8C85.4,430.2,86.2,430.6,87.0,431.0C87.8,431.4,88.6,431.7,89.3,432.1C90.1,432.4,90.9,432.8,91.7,433.1C92.5,433.4,93.3,433.6,94.1,433.9C94.9,434.1,95.7,434.3,96.4,434.5C97.2,434.6,98.0,434.7,98.8,434.8C99.6,434.9,100.4,434.9,101.2,435.0C102.0,435.0,102.8,435.0,103.5,435.0C104.3,435.0,105.1,434.9,105.9,434.9C106.7,434.9,107.5,434.9,108.3,434.9C109.1,434.9,109.9,434.9,110.6,434.9C111.4,434.9,112.2,434.8,113.0,434.8C113.8,434.7,114.6,434.6,115.4,434.4C116.2,434.2,117.0,434.0,117.7,433.8C118.5,433.5,119.3,433.2,120.1,432.8C120.9,432.5,121.7,432.1,122.5,431.7C123.3,431.3,124.1,431.0,124.8,430.7C125.6,430.3,126.4,430.1,127.2,429.9C128.0,429.7,128.8,429.6,129.6,429.5C130.4,429.4,131.2,429.4,131.9,429.4C132.7,429.4,133.5,429.5,134.3,429.6C135.1,429.6,135.9,429.8,136.7,429.9C137.5,430.1,138.3,430.3,139.0,430.5C139.8,430.7,140.6,430.9,141.4,431.1C142.2,431.4,143.0,431.6,143.8,431.9C144.6,432.1,145.4,432.4,146.1,432.6C146.9,432.8,147.7,433.1,148.5,433.3C149.3,433.5,150.1,433.7,150.9,433.9C151.7,434.1,152.5,434.3,153.2,434.5C154.0,434.7,154.8,434.9,155.6,435.0C156.4,435.2,157.2,435.3,158.0,435.5C158.8,435.6,159.6,435.7,160.4,435.8C161.1,435.9,161.9,436.0,162.7,436.0C163.5,436.0,164.3,436.0,165.1,436.0C165.9,436.0,166.7,435.9,167.5,435.8C168.2,435.6,169.0,435.5,169.8,435.3C170.6,435.0,171.4,434.8,172.2,434.5C173.0,434.2,173.8,433.8,174.6,433.5C175.3,433.1,176.1,432.7,176.9,432.3C177.7,431.9,178.5,431.5,179.3,431.1C180.1,430.7,180.9,430.4,181.7,430.1C182.4,429.9,183.2,429.6,184.0,429.5C184.8,429.3,185.6,429.2,186.4,428.9C187.2,428.7,188.0,428.5,188.8,428.1C189.5,427.7,190.3,427.3,191.1,426.5C191.9,425.7,192.7,424.6,193.5,422.7C194.3,420.8,195.1,418.2,195.9,414.6C196.6,411.1,197.4,406.6,198.2,401.7C199.0,396.8,199.8,391.4,200.6,385.7C201.4,379.9,202.2,373.9,203.0,367.2C203.7,360.5,204.5,353.1,205.3,345.7C206.1,338.4,206.9,331.1,207.7,325.2C208.5,319.2,209.3,314.6,210.1,311.9C210.8,309.2,211.6,308.4,212.4,309.9C213.2,311.4,214.0,315.1,214.8,320.9C215.6,326.7,216.4,334.5,217.2,342.8C217.9,351.1,218.7,359.8,219.5,367.9C220.3,376.0,221.1,383.4,221.9,389.8C222.7,396.1,223.5,401.3,224.3,405.4C225.0,409.4,225.8,412.2,226.6,414.1C227.4,416.0,228.2,417.0,229.0,417.8C229.8,418.5,230.6,419.0,231.4,419.5C232.2,419.9,232.9,420.3,233.7,420.6C234.5,420.9,235.3,421.1,236.1,421.3C236.9,421.5,237.7,421.7,238.5,421.7C239.3,421.8,240.0,421.8,240.8,421.8C241.6,421.7,242.4,421.6,243.2,421.4C244.0,421.2,244.8,421.0,245.6,420.9C246.4,420.7,247.1,420.6,247.9,420.6C248.7,420.6,249.5,420.8,250.3,421.1C251.1,421.5,251.9,422.0,252.7,422.5C253.5,423.1,254.2,423.7,255.0,424.4C255.8,425.0,256.6,425.6,257.4,426.1C258.2,426.7,259.0,427.2,259.8,427.5C260.6,427.9,261.3,428.2,262.1,428.4C262.9,428.6,263.7,428.7,264.5,428.8C265.3,428.8,266.1,428.9,266.9,428.9C267.7,429.0,268.4,429.0,269.2,429.1C270.0,429.2,270.8,429.3,271.6,429.4C272.4,429.5,273.2,429.7,274.0,429.8C274.8,429.9,275.5,430.1,276.3,430.2C277.1,430.4,277.9,430.5,278.7,430.6C279.5,430.7,280.3,430.8,281.1,430.9C281.9,431.0,282.6,431.1,283.4,431.2C284.2,431.2,285.0,431.3,285.8,431.4C286.6,431.5,287.4,431.5,288.2,431.6C289.0,431.7,289.7,431.8,290.5,431.9C291.3,432.0,292.1,432.2,292.9,432.3C293.7,432.4,294.5,432.6,295.3,432.7C296.1,432.9,296.8,433.0,297.6,433.2C298.4,433.3,299.2,433.4,300.0,433.6C300.8,433.7,301.6,433.8,302.4,433.9C303.2,434.0,304.0,434.1,304.7,434.2C305.5,434.3,306.3,434.3,307.1,434.4C307.9,434.4,308.7,434.5,309.5,434.5C310.3,434.5,311.1,434.5,311.8,434.5C312.6,434.5,313.4,434.5,314.2,434.4C315.0,434.4,315.8,434.4,316.6,434.3C317.4,434.2,318.2,434.2,318.9,434.1C319.7,434.1,320.5,434.0,321.3,433.9C322.1,433.9,322.9,433.9,323.7,433.8C324.5,433.8,325.3,433.8,326.0,433.8C326.8,433.8,327.6,433.8,328.4,433.9C329.2,433.9,330.0,434.0,330.8,434.1C331.6,434.1,332.4,434.2,333.1,434.3C333.9,434.4,334.7,434.5,335.5,434.6C336.3,434.7,337.1,434.8,337.9,434.9C338.7,435.0,339.5,435.0,340.2,435.1C341.0,435.2,341.8,435.3,342.6,435.4C343.4,435.4,344.2,435.5,345.0,435.5C345.8,435.6,346.6,435.7,347.3,435.7C348.1,435.7,348.9,435.8,349.7,435.8C350.5,435.8,351.3,435.9,352.1,435.9C352.9,435.9,353.7,435.9,354.4,435.9C355.2,435.9,356.0,435.9,356.8,435.9C357.6,435.9,358.4,435.8,359.2,435.8C360.0,435.8,360.8,435.7,361.5,435.6C362.3,435.6,363.1,435.5,363.9,435.4C364.7,435.4,365.5,435.3,366.3,435.2C367.1,435.1,367.9,435.1,368.6,435.0C369.4,435.0,370.2,434.9,371.0,434.9C371.8,434.9,372.6,434.9,373.4,434.9C374.2,434.9,375.0,435.0,375.8,435.0C376.5,435.1,377.3,435.2,378.1,435.3C378.9,435.4,379.7,435.4,380.5,435.5C381.3,435.6,382.1,435.7,382.9,435.8C383.6,435.9,384.4,436.0,385.2,436.0C386.0,436.1,386.8,436.1,387.6,436.1C388.4,436.2,389.2,436.2,390.0,436.1C390.7,436.1,391.5,436.1,392.3,436.1C393.1,436.0,393.9,436.0,394.7,436.0C395.5,435.9,396.3,435.9,397.1,435.8C397.8,435.8,398.6,435.8,399.4,435.8C400.2,435.8,401.0,435.8,401.8,435.8C402.6,435.9,403.4,435.9,404.2,436.0C404.9,436.0,405.7,436.1,406.5,436.1C407.3,436.2,408.1,436.3,408.9,436.4C409.7,436.5,410.5,436.5,411.3,436.6C412.0,436.7,412.8,436.8,413.6,436.8C414.4,436.9,415.2,436.9,416.0,437.0C416.8,437.0,417.6,437.0,418.4,437.0C419.1,437.1,419.9,437.1,420.7,437.1C421.5,437.0,422.3,437.0,423.1,437.0C423.9,437.0,424.7,436.9,425.5,436.9C426.2,436.8,427.0,436.8,427.8,436.7C428.6,436.7,429.4,436.6,430.2,436.5C431.0,436.4,431.8,436.4,432.6,436.3C433.3,436.2,434.1,436.1,434.9,436.0C435.7,435.9,436.5,435.9,437.3,435.8C438.1,435.7,438.9,435.7,439.7,435.6C440.4,435.6,441.2,435.5,442.0,435.5C442.8,435.5,443.6,435.5,444.4,435.5C445.2,435.5,446.0,435.6,446.8,435.7C447.5,435.7,448.3,435.8,449.1,435.9C449.9,436.1,450.7,436.2,451.5,436.4C452.3,436.6,453.1,436.8,453.9,437.0C454.7,437.1,455.4,437.3,456.2,437.5C457.0,437.6,457.8,437.7,458.6,437.7C459.4,437.8,460.2,437.8,461.0,437.8C461.8,437.7,462.5,437.7,463.3,437.6C464.1,437.5,464.9,437.4,465.7,437.3C466.5,437.2,467.3,437.0,468.1,436.9C468.9,436.8,469.6,436.7,470.4,436.6C471.2,436.5,472.0,436.5,472.8,436.4C473.6,436.4,474.4,436.4,475.2,436.4C476.0,436.3,476.7,436.3,477.5,436.3C478.3,436.3,479.1,436.3,479.9,436.3C480.7,436.3,481.5,436.3,482.3,436.2C483.1,436.2,483.8,436.2,484.6,436.2C485.4,436.1,486.2,436.1,487.0,436.1C487.8,436.1,488.6,436.1,489.4,436.1C490.2,436.1,490.9,436.1,491.7,436.1C492.5,436.2,493.3,436.2,494.1,436.2C494.9,436.2,495.7,436.2,496.5,436.1C497.3,436.0,498.0,435.8,498.8,435.1C499.6,434.4,500.4,433.3,501.2,430.8C502.0,428.2,502.8,424.3,503.6,418.8C504.4,413.4,505.1,406.5,505.9,399.5C506.7,392.5,507.5,385.4,508.3,378.1C509.1,370.9,509.9,363.6,510.7,356.6C511.5,349.6,512.2,342.9,513.0,336.8C513.8,330.8,514.6,325.5,515.4,323.0C516.2,320.6,517.0,321.0,517.8,324.2C518.6,327.3,519.3,333.1,520.1,339.6C520.9,346.0,521.7,353.1,522.5,360.0C523.3,366.9,524.1,373.7,524.9,379.3C525.7,385.0,526.5,389.6,527.2,393.4C528.0,397.2,528.8,400.3,529.6,403.1C530.4,405.9,531.2,408.4,532.0,410.6C532.8,412.8,533.6,414.7,534.3,416.4C535.1,418.1,535.9,419.7,536.7,421.0C537.5,422.4,538.3,423.6,539.1,424.6C539.9,425.6,540.7,426.4,541.4,427.1C542.2,427.8,543.0,428.3,543.8,428.8C544.6,429.2,545.4,429.7,546.2,430.0C547.0,430.4,547.8,430.8,548.5,431.0C549.3,431.3,550.1,431.5,550.9,431.6C551.7,431.8,552.5,431.8,553.3,431.9C554.1,431.9,554.9,431.8,555.6,431.8C556.4,431.7,557.2,431.6,558.0,431.6C558.8,431.5,559.6,431.4,560.4,431.4C561.2,431.4,562.0,431.4,562.7,431.4C563.5,431.5,564.3,431.6,565.1,431.7C565.9,431.8,566.7,432.0,567.5,432.1C568.3,432.1,569.1,432.2,569.8,432.2C570.6,432.2,571.4,432.1,572.2,432.0C573.0,431.9,573.8,431.8,574.6,431.6C575.4,431.5,576.2,431.4,576.9,431.4C577.7,431.4,578.5,431.4,579.3,431.4C580.1,431.5,580.9,431.6,581.7,431.8C582.5,431.9,583.3,432.0,584.0,432.2C584.8,432.3,585.6,432.5,586.4,432.6C587.2,432.8,588.0,432.9,588.8,432.9C589.6,433.0,590.4,433.0,591.1,433.0C591.9,433.0,592.7,433.0,593.5,432.9C594.3,432.8,595.1,432.6,595.9,432.5C596.7,432.3,597.5,432.2,598.2,432.1C599.0,431.9,599.8,431.8,600.6,431.8C601.4,431.8,602.2,431.8,603.0,431.9C603.8,432.0,604.6,432.1,605.4,432.3C606.1,432.5,606.9,432.7,607.7,433.0C608.5,433.2,609.3,433.5,610.1,433.7C610.9,434.0,611.7,434.3,612.5,434.5C613.2,434.7,614.0,435.0,614.8,435.1C615.6,435.3,616.4,435.5,617.2,435.6C618.0,435.7,618.8,435.8,619.6,435.7C620.3,435.7,621.1,435.7,621.9,435.6C622.7,435.5,623.5,435.4,624.3,435.3C625.1,435.2,625.9,435.2,626.7,435.4C627.4,435.5,628.2,435.7,629.0,435.9C629.8,436.0,630.6,436.0,631.4,434.8C632.2,433.5,633.0,431.0,633.8,426.6C634.5,422.2,635.3,416.0,636.1,407.9C636.9,399.8,637.7,389.9,638.5,378.0C639.3,366.0,640.1,352.1,640.9,337.0C641.6,321.9,642.4,305.7,643.2,290.3C644.0,274.9,644.8,260.3,645.6,248.3C646.4,236.3,647.2,226.9,648.0,222.5C648.7,218.0,649.5,218.5,650.3,223.0C651.1,227.6,651.9,236.1,652.7,245.9C653.5,255.6,654.3,266.5,655.1,277.4C655.8,288.3,656.6,299.2,657.4,309.1C658.2,319.0,659.0,327.9,659.8,335.5C660.6,343.1,661.4,349.5,662.2,354.7C662.9,360.0,663.7,364.2,664.5,367.6C665.3,371.0,666.1,373.6,666.9,376.1C667.7,378.5,668.5,380.8,669.3,382.9C670.0,384.9,670.8,386.6,671.6,388.1C672.4,389.5,673.2,390.8,674.0,391.7C674.8,392.6,675.6,393.3,676.4,393.5C677.2,393.8,677.9,393.6,678.7,393.1C679.5,392.7,680.3,391.9,681.1,391.1C681.9,390.3,682.7,389.4,683.5,388.6C684.3,387.9,685.0,387.3,685.8,386.9C686.6,386.5,687.4,386.3,688.2,386.2C689.0,386.1,689.8,386.1,690.6,386.1C691.4,386.1,692.1,386.1,692.9,385.9C693.7,385.6,694.5,385.2,695.3,384.5C696.1,383.9,696.9,382.9,697.7,381.9C698.5,381.0,699.2,380.0,700.0,379.1C700.8,378.3,701.6,377.5,702.4,377.1C703.2,376.6,704.0,376.4,704.8,376.6C705.6,376.8,706.3,377.6,707.1,378.7C707.9,379.9,708.7,381.4,709.5,383.0C710.3,384.7,711.1,386.4,711.9,388.0C712.7,389.6,713.4,391.1,714.2,392.5C715.0,393.9,715.8,395.2,716.6,396.3C717.4,397.5,718.2,398.6,719.0,399.6C719.8,400.6,720.5,401.6,721.3,402.6C722.1,403.7,722.9,404.7,723.7,405.7C724.5,406.7,725.3,407.7,726.1,408.7C726.9,409.8,727.6,410.8,728.4,411.8C729.2,412.8,730.0,413.7,730.8,414.6C731.6,415.5,732.4,416.4,733.2,417.2C734.0,418.0,734.7,418.7,735.5,419.3C736.3,420.0,737.1,420.6,737.9,421.1C738.7,421.7,739.5,422.1,740.3,422.6C741.1,423.0,741.8,423.3,742.6,423.7C743.4,424.0,744.2,424.3,745.0,424.6C745.8,424.9,746.6,425.1,747.4,425.3C748.2,425.6,749.0,425.8,749.7,426.0C750.5,426.2,751.3,426.5,752.1,426.7C752.9,426.9,753.7,427.1,754.5,427.3C755.3,427.5,756.1,427.6,756.8,427.8C757.6,427.9,758.4,428.0,759.2,428.0C760.0,428.0,760.8,427.9,761.6,427.7C762.4,427.4,763.2,427.1,763.9,426.8C764.7,426.5,765.5,426.1,766.3,425.8C767.1,425.5,767.9,425.2,768.7,424.9C769.5,424.7,770.3,424.6,771.0,424.5C771.8,424.4,772.6,424.3,773.4,424.3C774.2,424.3,775.0,424.3,775.8,424.2C776.6,424.2,777.4,424.1,778.1,423.8C778.9,423.6,779.7,423.2,780.5,422.4C781.3,421.7,782.1,420.6,782.9,419.1C783.7,417.5,784.5,415.5,785.2,413.3C786.0,411.1,786.8,408.7,787.6,406.3C788.4,403.9,789.2,401.4,790.0,398.7C790.8,396.0,791.6,393.1,792.3,390.0C793.1,386.8,793.9,383.6,794.7,380.8C795.5,377.9,796.3,375.6,797.1,373.9C797.9,372.2,798.7,371.2,799.4,371.3C800.2,371.5,801.0,372.7,801.8,374.7C802.6,376.8,803.4,379.5,804.2,382.6C805.0,385.8,805.8,389.2,806.5,392.4C807.3,395.6,808.1,398.7,808.9,401.3C809.7,403.9,810.5,406.0,811.3,407.7C812.1,409.5,812.9,410.8,813.6,411.9C814.4,412.9,815.2,413.7,816.0,414.4C816.8,415.0,817.6,415.5,818.4,415.8C819.2,416.1,820.0,416.3,820.8,416.4C821.5,416.5,822.3,416.6,823.1,416.7C823.9,416.7,824.7,416.8,825.5,417.0C826.3,417.2,827.1,417.4,827.9,417.7C828.6,418.0,829.4,418.4,830.2,418.8C831.0,419.2,831.8,419.7,832.6,420.0C833.4,420.4,834.2,420.7,835.0,420.9C835.7,421.2,836.5,421.3,837.3,421.5C838.1,421.6,838.9,421.7,839.7,421.8C840.5,421.9,841.3,422.0,842.1,422.0C842.8,422.1,843.6,422.1,844.4,422.1C845.2,422.1,846.0,422.1,846.8,422.1C847.6,422.0,848.4,421.9,849.2,421.8C849.9,421.8,850.7,421.6,851.5,421.5C852.3,421.3,853.1,421.2,853.9,421.0C854.7,420.8,855.5,420.6,856.3,420.3C857.0,420.1,857.8,419.8,858.6,419.5C859.4,419.2,860.2,418.8,861.0,418.6C861.8,418.3,862.6,418.0,863.4,418.0C864.1,417.9,864.9,418.1,865.7,418.5C866.5,418.9,867.3,419.5,868.1,420.2C868.9,420.9,869.7,421.8,870.5,422.6C871.2,423.4,872.0,424.3,872.8,424.9C873.6,425.6,874.4,426.2,875.2,426.6C876.0,427.0,876.8,427.3,877.6,427.6C878.3,427.9,879.1,428.1,879.9,428.4C880.7,428.6,881.5,428.9,882.3,429.1C883.1,429.4,883.9,429.6,884.7,429.9C885.4,430.1,886.2,430.4,887.0,430.6C887.8,430.8,888.6,430.9,889.4,431.1C890.2,431.3,891.0,431.4,891.8,431.5C892.5,431.6,893.3,431.6,894.1,431.7C894.9,431.7,895.7,431.7,896.5,431.7C897.3,431.6,898.1,431.6,898.9,431.5C899.7,431.4,900.4,431.3,901.2,431.2C902.0,431.0,902.8,430.9,903.6,430.8C904.4,430.7,905.2,430.5,906.0,430.4C906.8,430.3,907.5,430.2,908.3,430.1C909.1,430.0,909.9,430.0,910.7,429.9C911.5,429.9,912.3,429.8,913.1,429.8C913.9,429.8,914.6,429.8,915.4,429.8C916.2,429.9,917.0,429.9,917.8,430.0C918.6,430.1,919.4,430.3,920.2,430.5C921.0,430.7,921.7,430.9,922.5,431.2C923.3,431.5,924.1,431.8,924.9,432.1C925.7,432.4,926.5,432.7,927.3,433.1C928.1,433.4,928.8,433.7,929.6,434.0C930.4,434.3,931.2,434.6,931.6,434.8C932.0,434.9,932.0,434.9,932.0,434.9L932.00,0.00L42.00,0.00Z"/>
<path fill="pink" clip-path="url(#clip-below-red)" d="M42.0,387.7C42.0,387.7,42.0,387.7,42.4,382.4C42.8,377.0,43.6,366.3,44.4,356.4C45.2,346.5,45.9,337.3,46.7,328.9C47.5,320.4,48.3,312.5,49.1,304.9C49.9,297.2,50.7,289.6,51.5,282.3C52.3,275.1,53.0,268.2,53.8,262.7C54.6,257.3,55.4,253.3,56.2,251.0C57.0,248.6,57.8,247.8,58.6,248.0C59.4,248.3,60.1,249.6,60.9,253.1C61.7,256.7,62.5,262.4,63.3,269.2C64.1,275.9,64.9,283.8,65.7,289.8C66.5,295.8,67.2,300.0,68.0,299.3C68.8,298.6,69.6,293.1,70.4,282.9C71.2,272.6,72.0,257.7,72.8,241.3C73.6,225.0,74.3,207.1,75.1,190.7C75.9,174.2,76.7,159.1,77.5,148.0C78.3,136.9,79.1,129.7,79.9,129.7C80.7,129.7,81.5,136.9,82.2,148.2C83.0,159.6,83.8,175.2,84.6,193.0C85.4,210.8,86.2,230.9,87.0,250.2C87.8,269.6,88.6,288.3,89.3,304.4C90.1,320.5,90.9,334.0,91.7,345.1C92.5,356.2,93.3,365.0,94.1,371.6C94.9,378.2,95.7,382.7,96.4,385.9C97.2,389.1,98.0,390.9,98.8,392.3C99.6,393.6,100.4,394.5,101.2,395.3C102.0,396.1,102.8,396.8,103.5,397.3C104.3,397.7,105.1,398.0,105.9,398.4C106.7,398.8,107.5,399.3,108.3,399.9C109.1,400.5,109.9,401.3,110.6,400.7C111.4,400.1,112.2,398.1,113.0,395.4C113.8,392.8,114.6,389.5,115.4,384.9C116.2,380.3,117.0,374.4,117.7,366.2C118.5,358.1,119.3,347.6,120.1,336.5C120.9,325.3,121.7,313.4,122.5,301.9C123.3,290.5,124.1,279.6,124.8,269.8C125.6,260.0,126.4,251.5,127.2,244.6C128.0,237.8,128.8,232.8,129.6,229.6C130.4,226.4,131.2,225.0,131.9,225.5C132.7,225.9,133.5,228.2,134.3,232.1C135.1,236.1,135.9,241.9,136.7,248.7C137.5,255.4,138.3,263.3,139.0,271.4C139.8,279.5,140.6,288.0,141.4,296.3C142.2,304.6,143.0,312.7,143.8,320.3C144.6,327.9,145.4,335.2,146.1,341.9C146.9,348.6,147.7,354.8,148.5,359.8C149.3,364.9,150.1,368.8,150.9,371.7C151.7,374.7,152.5,376.7,153.2,378.5C154.0,380.4,154.8,382.0,155.6,383.6C156.4,385.2,157.2,386.7,158.0,388.2C158.8,389.6,159.6,391.0,160.4,391.9C161.1,392.8,161.9,393.3,162.7,392.9C163.5,392.6,164.3,391.4,165.1,390.0C165.9,388.5,166.7,386.7,167.5,384.8C168.2,382.9,169.0,380.8,169.8,378.8C170.6,376.9,171.4,375.0,172.2,373.4C173.0,371.8,173.8,370.4,174.6,369.4C175.3,368.3,176.1,367.5,176.9,367.0C177.7,366.5,178.5,366.3,179.3,366.3C180.1,366.4,180.9,366.7,181.7,367.2C182.4,367.7,183.2,368.3,184.0,369.0C184.8,369.6,185.6,370.3,186.4,371.0C187.2,371.8,188.0,372.5,188.8,373.4C189.5,374.2,190.3,375.2,191.1,376.2C191.9,377.2,192.7,378.3,193.5,379.4C194.3,380.4,195.1,381.5,195.9,382.4C196.6,383.4,197.4,384.3,198.2,385.1C199.0,385.9,199.8,386.6,200.6,387.2C201.4,387.8,202.2,388.2,203.0,388.6C203.7,388.9,204.5,389.2,205.3,389.4C206.1,389.6,206.9,389.8,207.7,390.0C208.5,390.3,209.3,390.7,210.1,391.4C210.8,392.0,211.6,392.9,212.4,394.1C213.2,395.3,214.0,396.7,214.8,398.2C215.6,399.6,216.4,401.1,217.2,402.4C217.9,403.7,218.7,404.9,219.5,405.9C220.3,407.0,221.1,407.8,221.9,408.6C222.7,409.3,223.5,409.8,224.3,410.2C225.0,410.6,225.8,410.9,226.6,411.0C227.4,411.1,228.2,411.1,229.0,411.0C229.8,411.0,230.6,410.8,231.4,410.6C232.2,410.4,232.9,410.2,233.7,409.4C234.5,408.6,235.3,407.4,236.1,404.3C236.9,401.2,237.7,396.3,238.5,389.5C239.3,382.7,240.0,374.0,240.8,363.7C241.6,353.3,242.4,341.4,243.2,329.1C244.0,316.8,244.8,304.2,245.6,292.6C246.4,281.0,247.1,270.6,247.9,262.2C248.7,253.8,249.5,247.5,250.3,244.5C251.1,241.5,251.9,241.8,252.7,245.5C253.5,249.2,254.2,256.2,255.0,265.1C255.8,274.1,256.6,284.8,257.4,295.2C258.2,305.6,259.0,315.5,259.8,323.6C260.6,331.7,261.3,337.9,262.1,342.5C262.9,347.1,263.7,350.2,264.5,352.6C265.3,355.0,266.1,356.8,266.9,358.4C267.7,360.1,268.4,361.6,269.2,363.3C270.0,364.9,270.8,366.7,271.6,368.5C272.4,370.4,273.2,372.4,274.0,374.3C274.8,376.2,275.5,378.1,276.3,379.9C277.1,381.7,277.9,383.3,278.7,384.8C279.5,386.3,280.3,387.6,281.1,388.7C281.9,389.8,282.6,390.8,283.4,391.7C284.2,392.6,285.0,393.4,285.8,394.1C286.6,394.8,287.4,395.5,288.2,396.2C289.0,396.9,289.7,397.6,290.5,398.3C291.3,398.9,292.1,399.6,292.9,400.2C293.7,400.9,294.5,401.4,295.3,401.8C296.1,402.2,296.8,402.4,297.6,402.3C298.4,402.3,299.2,402.0,300.0,401.6C300.8,401.3,301.6,400.8,302.4,400.4C303.2,399.9,304.0,399.5,304.7,399.2C305.5,398.9,306.3,398.7,307.1,398.6C307.9,398.5,308.7,398.5,309.5,398.6C310.3,398.7,311.1,399.0,311.8,399.3C312.6,399.6,313.4,399.9,314.2,400.3C315.0,400.6,315.8,400.9,316.6,401.3C317.4,401.6,318.2,401.9,318.9,402.2C319.7,402.4,320.5,402.7,321.3,402.9C322.1,403.1,322.9,403.3,323.7,403.5C324.5,403.7,325.3,403.9,326.0,404.2C326.8,404.6,327.6,404.9,328.4,405.4C329.2,405.8,330.0,406.3,330.8,406.8C331.6,407.3,332.4,407.7,333.1,408.0C333.9,408.4,334.7,408.6,335.5,408.8C336.3,409.0,337.1,409.0,337.9,409.0C338.7,409.0,339.5,409.0,340.2,409.0C341.0,409.0,341.8,409.0,342.6,409.1C343.4,409.2,344.2,409.4,345.0,409.9C345.8,410.4,346.6,411.0,347.3,411.7C348.1,412.4,348.9,413.2,349.7,413.9C350.5,414.6,351.3,415.2,352.1,415.7C352.9,416.2,353.7,416.6,354.4,417.0C355.2,417.4,356.0,417.7,356.8,417.9C357.6,418.2,358.4,418.4,359.2,418.5C360.0,418.6,360.8,418.6,361.5,418.6C362.3,418.6,363.1,418.5,363.9,418.3C364.7,418.1,365.5,417.9,366.3,417.6C367.1,417.4,367.9,417.1,368.6,416.7C369.4,416.4,370.2,416.0,371.0,415.6C371.8,415.3,372.6,414.9,373.4,414.4C374.2,414.0,375.0,413.5,375.8,413.1C376.5,412.6,377.3,412.1,378.1,411.6C378.9,411.1,379.7,410.6,380.5,410.1C381.3,409.5,382.1,409.0,382.9,408.5C383.6,408.0,384.4,407.5,385.2,407.0C386.0,406.6,386.8,406.1,387.6,405.7C388.4,405.3,389.2,404.9,390.0,404.5C390.7,404.2,391.5,403.9,392.3,403.6C393.1,403.3,393.9,403.1,394.7,402.9C395.5,402.7,396.3,402.6,397.1,402.6C397.8,402.6,398.6,402.6,399.4,402.8C400.2,402.9,401.0,403.1,401.8,403.4C402.6,403.7,403.4,404.1,404.2,404.5C404.9,404.9,405.7,405.3,406.5,405.7C407.3,406.1,408.1,406.6,408.9,407.0C409.7,407.4,410.5,407.7,411.3,408.0C412.0,408.3,412.8,408.6,413.6,408.8C414.4,409.0,415.2,409.2,416.0,409.4C416.8,409.5,417.6,409.7,418.4,409.9C419.1,410.1,419.9,410.3,420.7,410.5C421.5,410.7,422.3,410.9,423.1,411.0C423.9,411.1,424.7,411.2,425.5,411.0C426.2,410.8,427.0,410.4,427.8,409.7C428.6,409.0,429.4,407.9,430.2,406.6C431.0,405.2,431.8,403.4,432.6,401.4C433.3,399.4,434.1,397.0,434.9,394.6C435.7,392.2,436.5,389.6,437.3,387.2C438.1,384.8,438.9,382.6,439.7,380.8C440.4,379.0,441.2,377.5,442.0,376.4C442.8,375.3,443.6,374.5,444.4,374.0C445.2,373.4,446.0,373.1,446.8,373.0C447.5,372.8,448.3,372.9,449.1,373.3C449.9,373.8,450.7,374.6,451.5,375.7C452.3,376.9,453.1,378.4,453.9,380.0C454.7,381.6,455.4,383.4,456.2,385.2C457.0,387.0,457.8,388.7,458.6,390.4C459.4,392.0,460.2,393.6,461.0,395.1C461.8,396.7,462.5,398.2,463.3,399.6C464.1,400.9,464.9,402.2,465.7,403.2C466.5,404.2,467.3,405.0,468.1,405.5C468.9,405.9,469.6,406.2,470.4,406.3C471.2,406.4,472.0,406.4,472.8,406.4C473.6,406.4,474.4,406.4,475.2,406.6C476.0,406.8,476.7,407.1,477.5,407.6C478.3,408.0,479.1,408.5,479.9,409.1C480.7,409.7,481.5,410.3,482.3,410.8C483.1,411.4,483.8,411.9,484.6,412.4C485.4,412.9,486.2,413.4,487.0,413.8C487.8,414.2,488.6,414.5,489.4,414.7C490.2,415.0,490.9,415.1,491.7,415.2C492.5,415.3,493.3,415.3,494.1,415.4C494.9,415.4,495.7,415.5,496.5,415.4C497.3,415.3,498.0,415.0,498.8,414.1C499.6,413.2,500.4,411.6,501.2,408.7C502.0,405.9,502.8,401.8,503.6,396.8C504.4,391.8,505.1,385.8,505.9,378.9C506.7,371.9,507.5,363.9,508.3,354.9C509.1,346.0,509.9,336.1,510.7,326.8C511.5,317.5,512.2,308.8,513.0,301.5C513.8,294.3,514.6,288.6,515.4,286.1C516.2,283.5,517.0,284.1,517.8,287.1C518.6,290.2,519.3,295.6,520.1,301.6C520.9,307.7,521.7,314.2,522.5,321.1C523.3,328.0,524.1,335.3,524.9,342.2C525.7,349.1,526.5,355.8,527.2,360.7C528.0,365.7,528.8,369.0,529.6,371.4C530.4,373.7,531.2,375.2,532.0,376.7C532.8,378.3,533.6,379.9,534.3,381.4C535.1,382.9,535.9,384.2,536.7,385.4C537.5,386.6,538.3,387.7,539.1,388.7C539.9,389.7,540.7,390.7,541.4,391.6C542.2,392.5,543.0,393.4,543.8,394.3C544.6,395.1,545.4,395.9,546.2,396.6C547.0,397.4,547.8,398.1,548.5,398.7C549.3,399.4,550.1,400.0,550.9,400.5C551.7,401.1,552.5,401.6,553.3,402.1C554.1,402.6,554.9,403.1,555.6,403.6C556.4,404.0,557.2,404.5,558.0,404.8C558.8,405.2,559.6,405.5,560.4,405.7C561.2,405.9,562.0,406.0,562.7,405.9C563.5,405.9,564.3,405.7,565.1,405.5C565.9,405.3,566.7,405.1,567.5,404.9C568.3,404.6,569.1,404.5,569.8,404.3C570.6,404.2,571.4,404.1,572.2,404.0C573.0,403.9,573.8,403.9,574.6,403.9C575.4,403.9,576.2,403.9,576.9,403.9C577.7,404.0,578.5,404.0,579.3,404.0C580.1,404.0,580.9,404.0,581.7,403.9C582.5,403.8,583.3,403.7,584.0,403.5C584.8,403.3,585.6,403.1,586.4,402.8C587.2,402.6,588.0,402.2,588.8,401.9C589.6,401.6,590.4,401.2,591.1,400.8C591.9,400.5,592.7,400.1,593.5,399.7C594.3,399.4,595.1,399.0,595.9,398.7C596.7,398.4,597.5,398.2,598.2,398.0C599.0,397.8,599.8,397.6,600.6,397.6C601.4,397.6,602.2,397.6,603.0,397.9C603.8,398.1,604.6,398.5,605.4,399.0C606.1,399.6,606.9,400.3,607.7,401.2C608.5,402.0,609.3,403.0,610.1,403.9C610.9,404.9,611.7,405.8,612.5,406.7C613.2,407.5,614.0,408.4,614.8,409.1C615.6,409.9,616.4,410.6,617.2,411.2C618.0,411.8,618.8,412.4,619.6,412.8C620.3,413.3,621.1,413.6,621.9,413.9C622.7,414.2,623.5,414.4,624.3,414.5C625.1,414.6,625.9,414.6,626.7,414.6C627.4,414.6,628.2,414.5,629.0,414.4C629.8,414.3,630.6,414.2,631.4,414.0C632.2,413.9,633.0,413.7,633.8,413.6C634.5,413.4,635.3,413.2,636.1,412.9C636.9,412.7,637.7,412.4,638.5,412.0C639.3,411.6,640.1,411.1,640.9,410.5C641.6,409.9,642.4,409.2,643.2,408.6C644.0,408.0,644.8,407.4,645.6,406.9C646.4,406.4,647.2,406.1,648.0,405.9C648.7,405.6,649.5,405.5,650.3,405.5C651.1,405.5,651.9,405.6,652.7,405.7C653.5,405.9,654.3,406.1,655.1,406.4C655.8,406.7,656.6,407.0,657.4,407.3C658.2,407.7,659.0,408.0,659.8,408.4C660.6,408.7,661.4,409.0,662.2,409.3C662.9,409.7,663.7,409.9,664.5,410.2C665.3,410.4,666.1,410.7,666.9,410.9C667.7,411.1,668.5,411.2,669.3,411.3C670.0,411.4,670.8,411.4,671.6,411.2C672.4,411.0,673.2,410.6,674.0,409.9C674.8,409.2,675.6,408.3,676.4,407.1C677.2,405.9,677.9,404.4,678.7,402.7C679.5,401.0,680.3,399.0,681.1,397.2C681.9,395.3,682.7,393.7,683.5,392.3C684.3,391.0,685.0,390.0,685.8,389.1C686.6,388.3,687.4,387.7,688.2,387.2C689.0,386.8,689.8,386.5,690.6,386.3C691.4,386.1,692.1,386.0,692.9,385.8C693.7,385.6,694.5,385.3,695.3,384.9C696.1,384.5,696.9,383.9,697.7,383.4C698.5,382.8,699.2,382.1,700.0,381.5C700.8,380.8,701.6,380.1,702.4,379.5C703.2,378.9,704.0,378.2,704.8,377.7C705.6,377.1,706.3,376.6,707.1,376.2C707.9,375.8,708.7,375.5,709.5,375.3C710.3,375.1,711.1,375.1,711.9,375.1C712.7,375.2,713.4,375.4,714.2,375.8C715.0,376.2,715.8,376.8,716.6,377.7C717.4,378.6,718.2,379.6,719.0,380.8C719.8,382.0,720.5,383.2,721.3,384.4C722.1,385.6,722.9,386.9,723.7,388.0C724.5,389.1,725.3,390.2,726.1,391.1C726.9,392.1,727.6,392.9,728.4,393.6C729.2,394.4,730.0,395.0,730.8,395.5C731.6,396.1,732.4,396.5,733.2,396.9C734.0,397.2,734.7,397.6,735.5,397.8C736.3,398.1,737.1,398.4,737.9,398.6C738.7,398.9,739.5,399.1,740.3,399.4C741.1,399.7,741.8,400.1,742.6,400.4C743.4,400.8,744.2,401.2,745.0,401.7C745.8,402.1,746.6,402.5,747.4,402.9C748.2,403.3,749.0,403.7,749.7,404.0C750.5,404.3,751.3,404.6,752.1,404.8C752.9,405.0,753.7,405.1,754.5,405.1C755.3,405.1,756.1,405.1,756.8,404.7C757.6,404.4,758.4,403.9,759.2,403.1C760.0,402.3,760.8,401.2,761.6,399.9C762.4,398.6,763.2,397.1,763.9,395.4C764.7,393.7,765.5,391.9,766.3,390.0C767.1,388.2,767.9,386.3,768.7,384.4C769.5,382.5,770.3,380.6,771.0,378.8C771.8,377.0,772.6,375.4,773.4,373.9C774.2,372.4,775.0,371.1,775.8,370.0C776.6,368.9,777.4,368.0,778.1,367.4C778.9,366.7,779.7,366.3,780.5,366.2C781.3,366.1,782.1,366.4,782.9,367.0C783.7,367.6,784.5,368.5,785.2,369.6C786.0,370.8,786.8,372.1,787.6,373.4C788.4,374.7,789.2,376.0,790.0,377.2C790.8,378.3,791.6,379.4,792.3,380.2C793.1,381.1,793.9,381.8,794.7,382.2C795.5,382.6,796.3,382.7,797.1,381.0C797.9,379.3,798.7,375.8,799.4,370.1C800.2,364.3,801.0,356.4,801.8,348.4C802.6,340.3,803.4,332.3,804.2,325.4C805.0,318.6,805.8,313.0,806.5,308.8C807.3,304.5,808.1,301.7,808.9,300.1C809.7,298.5,810.5,298.2,811.3,299.4C812.1,300.6,812.9,303.3,813.6,307.0C814.4,310.7,815.2,315.4,816.0,320.3C816.8,325.2,817.6,330.3,818.4,334.9C819.2,339.6,820.0,343.9,820.8,347.5C821.5,351.1,822.3,354.1,823.1,356.4C823.9,358.8,824.7,360.6,825.5,362.1C826.3,363.5,827.1,364.6,827.9,365.1C828.6,365.6,829.4,365.4,830.2,365.0C831.0,364.6,831.8,364.0,832.6,363.5C833.4,363.0,834.2,362.6,835.0,362.5C835.7,362.4,836.5,362.6,837.3,362.9C838.1,363.3,838.9,363.8,839.7,364.8C840.5,365.7,841.3,367.1,842.1,368.6C842.8,370.2,843.6,372.0,844.4,373.6C845.2,375.2,846.0,376.7,846.8,377.8C847.6,379.0,848.4,379.9,849.2,380.5C849.9,381.1,850.7,381.5,851.5,381.6C852.3,381.7,853.1,381.5,853.9,381.0C854.7,380.4,855.5,379.6,856.3,378.5C857.0,377.5,857.8,376.1,858.6,374.8C859.4,373.5,860.2,372.2,861.0,371.1C861.8,370.1,862.6,369.3,863.4,368.9C864.1,368.6,864.9,368.6,865.7,369.0C866.5,369.4,867.3,370.3,868.1,371.6C868.9,373.0,869.7,374.8,870.5,376.7C871.2,378.6,872.0,380.6,872.8,382.5C873.6,384.4,874.4,386.2,875.2,388.1C876.0,389.9,876.8,391.7,877.6,393.5C878.3,395.2,879.1,396.8,879.9,398.3C880.7,399.7,881.5,401.0,882.3,402.1C883.1,403.2,883.9,404.1,884.7,404.8C885.4,405.6,886.2,406.1,887.0,406.6C887.8,407.0,888.6,407.4,889.4,407.6C890.2,407.8,891.0,407.9,891.8,407.9C892.5,407.9,893.3,407.7,894.1,407.4C894.9,407.1,895.7,406.6,896.5,406.1C897.3,405.6,898.1,405.0,898.9,404.3C899.7,403.6,900.4,402.9,901.2,402.2C902.0,401.4,902.8,400.7,903.6,399.9C904.4,399.2,905.2,398.4,906.0,397.7C906.8,397.0,907.5,396.3,908.3,395.7C909.1,395.0,909.9,394.5,910.7,393.9C911.5,393.4,912.3,392.9,913.1,392.5C913.9,392.1,914.6,391.8,915.4,391.7C916.2,391.5,917.0,391.4,917.8,391.6C918.6,391.8,919.4,392.1,920.2,392.9C921.0,393.6,921.7,394.6,922.5,396.0C923.3,397.3,924.1,398.9,924.9,400.7C925.7,402.5,926.5,404.5,927.3,406.6C928.1,408.7,928.8,411.0,929.6,413.3C930.4,415.6,931.2,418.0,931.6,419.2C932.0,420.4,932.0,420.4,932.0,420.4L932.00,0.00L42.00,0.00Z"/>
<path class="line" stroke="darkgreen" d="M42.0,387.7C42.0,387.7,42.0,387.7,42.4,382.4C42.8,377.0,43.6,366.3,44.4,356.4C45.2,346.5,45.9,337.3,46.7,328.9C47.5,320.4,48.3,312.5,49.1,304.9C49.9,297.2,50.7,289.6,51.5,282.3C52.3,275.1,53.0,268.2,53.8,262.7C54.6,257.3,55.4,253.3,56.2,251.0C57.0,248.6,57.8,247.8,58.6,248.0C59.4,248.3,60.1,249.6,60.9,253.1C61.7,256.7,62.5,262.4,63.3,269.2C64.1,275.9,64.9,283.8,65.7,289.8C66.5,295.8,67.2,300.0,68.0,299.3C68.8,298.6,69.6,293.1,70.4,282.9C71.2,272.6,72.0,257.7,72.8,241.3C73.6,225.0,74.3,207.1,75.1,190.7C75.9,174.2,76.7,159.1,77.5,148.0C78.3,136.9,79.1,129.7,79.9,129.7C80.7,129.7,81.5,136.9,82.2,148.2C83.0,159.6,83.8,175.2,84.6,193.0C85.4,210.8,86.2,230.9,87.0,250.2C87.8,269.6,88.6,288.3,89.3,304.4C90.1,320.5,90.9,334.0,91.7,345.1C92.5,356.2,93.3,365.0,94.1,371.6C94.9,378.2,95.7,382.7,96.4,385.9C97.2,389.1,98.0,390.9,98.8,392.3C99.6,393.6,100.4,394.5,101.2,395.3C102.0,396.1,102.8,396.8,103.5,397.3C104.3,397.7,105.1,398.0,105.9,398.4C106.7,398.8,107.5,399.3,108.3,399.9C109.1,400.5,109.9,401.3,110.6,400.7C111.4,400.1,112.2,398.1,113.0,395.4C113.8,392.8,114.6,389.5,115.4,384.9C116.2,380.3,117.0,374.4,117.7,366.2C118.5,358.1,119.3,347.6,120.1,336.5C120.9,325.3,121.7,313.4,122.5,301.9C123.3,290.5,124.1,279.6,124.8,269.8C125.6,260.0,126.4,251.5,127.2,244.6C128.0,237.8,128.8,232.8,129.6,229.6C130.4,226.4,131.2,225.0,131.9,225.5C132.7,225.9,133.5,228.2,134.3,232.1C135.1,236.1,135.9,241.9,136.7,248.7C137.5,255.4,138.3,263.3,139.0,271.4C139.8,279.5,140.6,288.0,141.4,296.3C142.2,304.6,143.0,312.7,143.8,320.3C144.6,327.9,145.4,335.2,146.1,341.9C146.9,348.6,147.7,354.8,148.5,359.8C149.3,364.9,150.1,368.8,150.9,371.7C151.7,374.7,152.5,376.7,153.2,378.5C154.0,380.4,154.8,382.0,155.6,383.6C156.4,385.2,157.2,386.7,158.0,388.2C158.8,389.6,159.6,391.0,160.4,391.9C161.1,392.8,161.9,393.3,162.7,392.9C163.5,392.6,164.3,391.4,165.1,390.0C165.9,388.5,166.7,386.7,167.5,384.8C168.2,382.9,169.0,380.8,169.8,378.8C170.6,376.9,171.4,375.0,172.2,373.4C173.0,371.8,173.8,370.4,174.6,369.4C175.3,368.3,176.1,367.5,176.9,367.0C177.7,366.5,178.5,366.3,179.3,366.3C180.1,366.4,180.9,366.7,181.7,367.2C182.4,367.7,183.2,368.3,184.0,369.0C184.8,369.6,185.6,370.3,186.4,371.0C187.2,371.8,188.0,372.5,188.8,373.4C189.5,374.2,190.3,375.2,191.1,376.2C191.9,377.2,192.7,378.3,193.5,379.4C194.3,380.4,195.1,381.5,195.9,382.4C196.6,383.4,197.4,384.3,198.2,385.1C199.0,385.9,199.8,386.6,200.6,387.2C201.4,387.8,202.2,388.2,203.0,388.6C203.7,388.9,204.5,389.2,205.3,389.4C206.1,389.6,206.9,389.8,207.7,390.0C208.5,390.3,209.3,390.7,210.1,391.4C210.8,392.0,211.6,392.9,212.4,394.1C213.2,395.3,214.0,396.7,214.8,398.2C215.6,399.6,216.4,401.1,217.2,402.4C217.9,403.7,218.7,404.9,219.5,405.9C220.3,407.0,221.1,407.8,221.9,408.6C222.7,409.3,223.5,409.8,224.3,410.2C225.0,410.6,225.8,410.9,226.6,411.0C227.4,411.1,228.2,411.1,229.0,411.0C229.8,411.0,230.6,410.8,231.4,410.6C232.2,410.4,232.9,410.2,233.7,409.4C234.5,408.6,235.3,407.4,236.1,404.3C236.9,401.2,237.7,396.3,238.5,389.5C239.3,382.7,240.0,374.0,240.8,363.7C241.6,353.3,242.4,341.4,243.2,329.1C244.0,316.8,244.8,304.2,245.6,292.6C246.4,281.0,247.1,270.6,247.9,262.2C248.7,253.8,249.5,247.5,250.3,244.5C251.1,241.5,251.9,241.8,252.7,245.5C253.5,249.2,254.2,256.2,255.0,265.1C255.8,274.1,256.6,284.8,257.4,295.2C258.2,305.6,259.0,315.5,259.8,323.6C260.6,331.7,261.3,337.9,262.1,342.5C262.9,347.1,263.7,350.2,264.5,352.6C265.3,355.0,266.1,356.8,266.9,358.4C267.7,360.1,268.4,361.6,269.2,363.3C270.0,364.9,270.8,366.7,271.6,368.5C272.4,370.4,273.2,372.4,274.0,374.3C274.8,376.2,275.5,378.1,276.3,379.9C277.1,381.7,277.9,383.3,278.7,384.8C279.5,386.3,280.3,387.6,281.1,388.7C281.9,389.8,282.6,390.8,283.4,391.7C284.2,392.6,285.0,393.4,285.8,394.1C286.6,394.8,287.4,395.5,288.2,396.2C289.0,396.9,289.7,397.6,290.5,398.3C291.3,398.9,292.1,399.6,292.9,400.2C293.7,400.9,294.5,401.4,295.3,401.8C296.1,402.2,296.8,402.4,297.6,402.3C298.4,402.3,299.2,402.0,300.0,401.6C300.8,401.3,301.6,400.8,302.4,400.4C303.2,399.9,304.0,399.5,304.7,399.2C305.5,398.9,306.3,398.7,307.1,398.6C307.9,398.5,308.7,398.5,309.5,398.6C310.3,398.7,311.1,399.0,311.8,399.3C312.6,399.6,313.4,399.9,314.2,400.3C315.0,400.6,315.8,400.9,316.6,401.3C317.4,401.6,318.2,401.9,318.9,402.2C319.7,402.4,320.5,402.7,321.3,402.9C322.1,403.1,322.9,403.3,323.7,403.5C324.5,403.7,325.3,403.9,326.0,404.2C326.8,404.6,327.6,404.9,328.4,405.4C329.2,405.8,330.0,406.3,330.8,406.8C331.6,407.3,332.4,407.7,333.1,408.0C333.9,408.4,334.7,408.6,335.5,408.8C336.3,409.0,337.1,409.0,337.9,409.0C338.7,409.0,339.5,409.0,340.2,409.0C341.0,409.0,341.8,409.0,342.6,409.1C343.4,409.2,344.2,409.4,345.0,409.9C345.8,410.4,346.6,411.0,347.3,411.7C348.1,412.4,348.9,413.2,349.7,413.9C350.5,414.6,351.3,415.2,352.1,415.7C352.9,416.2,353.7,416.6,354.4,417.0C355.2,417.4,356.0,417.7,356.8,417.9C357.6,418.2,358.4,418.4,359.2,418.5C360.0,418.6,360.8,418.6,361.5,418.6C362.3,418.6,363.1,418.5,363.9,418.3C364.7,418.1,365.5,417.9,366.3,417.6C367.1,417.4,367.9,417.1,368.6,416.7C369.4,416.4,370.2,416.0,371.0,415.6C371.8,415.3,372.6,414.9,373.4,414.4C374.2,414.0,375.0,413.5,375.8,413.1C376.5,412.6,377.3,412.1,378.1,411.6C378.9,411.1,379.7,410.6,380.5,410.1C381.3,409.5,382.1,409.0,382.9,408.5C383.6,408.0,384.4,407.5,385.2,407.0C386.0,406.6,386.8,406.1,387.6,405.7C388.4,405.3,389.2,404.9,390.0,404.5C390.7,404.2,391.5,403.9,392.3,403.6C393.1,403.3,393.9,403.1,394.7,402.9C395.5,402.7,396.3,402.6,397.1,402.6C397.8,402.6,398.6,402.6,399.4,402.8C400.2,402.9,401.0,403.1,401.8,403.4C402.6,403.7,403.4,404.1,404.2,404.5C404.9,404.9,405.7,405.3,406.5,405.7C407.3,406.1,408.1,406.6,408.9,407.0C409.7,407.4,410.5,407.7,411.3,408.0C412.0,408.3,412.8,408.6,413.6,408.8C414.4,409.0,415.2,409.2,416.0,409.4C416.8,409.5,417.6,409.7,418.4,409.9C419.1,410.1,419.9,410.3,420.7,410.5C421.5,410.7,422.3,410.9,423.1,411.0C423.9,411.1,424.7,411.2,425.5,411.0C426.2,410.8,427.0,410.4,427.8,409.7C428.6,409.0,429.4,407.9,430.2,406.6C431.0,405.2,431.8,403.4,432.6,401.4C433.3,399.4,434.1,397.0,434.9,394.6C435.7,392.2,436.5,389.6,437.3,387.2C438.1,384.8,438.9,382.6,439.7,380.8C440.4,379.0,441.2,377.5,442.0,376.4C442.8,375.3,443.6,374.5,444.4,374.0C445.2,373.4,446.0,373.1,446.8,373.0C447.5,372.8,448.3,372.9,449.1,373.3C449.9,373.8,450.7,374.6,451.5,375.7C452.3,376.9,453.1,378.4,453.9,380.0C454.7,381.6,455.4,383.4,456.2,385.2C457.0,387.0,457.8,388.7,458.6,390.4C459.4,392.0,460.2,393.6,461.0,395.1C461.8,396.7,462.5,398.2,463.3,399.6C464.1,400.9,464.9,402.2,465.7,403.2C466.5,404.2,467.3,405.0,468.1,405.5C468.9,405.9,469.6,406.2,470.4,406.3C471.2,406.4,472.0,406.4,472.8,406.4C473.6,406.4,474.4,406.4,475.2,406.6C476.0,406.8,476.7,407.1,477.5,407.6C478.3,408.0,479.1,408.5,479.9,409.1C480.7,409.7,481.5,410.3,482.3,410.8C483.1,411.4,483.8,411.9,484.6,412.4C485.4,412.9,486.2,413.4,487.0,413.8C487.8,414.2,488.6,414.5,489.4,414.7C490.2,415.0,490.9,415.1,491.7,415.2C492.5,415.3,493.3,415.3,494.1,415.4C494.9,415.4,495.7,415.5,496.5,415.4C497.3,415.3,498.0,415.0,498.8,414.1C499.6,413.2,500.4,411.6,501.2,408.7C502.0,405.9,502.8,401.8,503.6,396.8C504.4,391.8,505.1,385.8,505.9,378.9C506.7,371.9,507.5,363.9,508.3,354.9C509.1,346.0,509.9,336.1,510.7,326.8C511.5,317.5,512.2,308.8,513.0,301.5C513.8,294.3,514.6,288.6,515.4,286.1C516.2,283.5,517.0,284.1,517.8,287.1C518.6,290.2,519.3,295.6,520.1,301.6C520.9,307.7,521.7,314.2,522.5,321.1C523.3,328.0,524.1,335.3,524.9,342.2C525.7,349.1,526.5,355.8,527.2,360.7C528.0,365.7,528.8,369.0,529.6,371.4C530.4,373.7,531.2,375.2,532.0,376.7C532.8,378.3,533.6,379.9,534.3,381.4C535.1,382.9,535.9,384.2,536.7,385.4C537.5,386.6,538.3,387.7,539.1,388.7C539.9,389.7,540.7,390.7,541.4,391.6C542.2,392.5,543.0,393.4,543.8,394.3C544.6,395.1,545.4,395.9,546.2,396.6C547.0,397.4,547.8,398.1,548.5,398.7C549.3,399.4,550.1,400.0,550.9,400.5C551.7,401.1,552.5,401.6,553.3,402.1C554.1,402.6,554.9,403.1,555.6,403.6C556.4,404.0,557.2,404.5,558.0,404.8C558.8,405.2,559.6,405.5,560.4,405.7C561.2,405.9,562.0,406.0,562.7,405.9C563.5,405.9,564.3,405.7,565.1,405.5C565.9,405.3,566.7,405.1,567.5,404.9C568.3,404.6,569.1,404.5,569.8,404.3C570.6,404.2,571.4,404.1,572.2,404.0C573.0,403.9,573.8,403.9,574.6,403.9C575.4,403.9,576.2,403.9,576.9,403.9C577.7,404.0,578.5,404.0,579.3,404.0C580.1,404.0,580.9,404.0,581.7,403.9C582.5,403.8,583.3,403.7,584.0,403.5C584.8,403.3,585.6,403.1,586.4,402.8C587.2,402.6,588.0,402.2,588.8,401.9C589.6,401.6,590.4,401.2,591.1,400.8C591.9,400.5,592.7,400.1,593.5,399.7C594.3,399.4,595.1,399.0,595.9,398.7C596.7,398.4,597.5,398.2,598.2,398.0C599.0,397.8,599.8,397.6,600.6,397.6C601.4,397.6,602.2,397.6,603.0,397.9C603.8,398.1,604.6,398.5,605.4,399.0C606.1,399.6,606.9,400.3,607.7,401.2C608.5,402.0,609.3,403.0,610.1,403.9C610.9,404.9,611.7,405.8,612.5,406.7C613.2,407.5,614.0,408.4,614.8,409.1C615.6,409.9,616.4,410.6,617.2,411.2C618.0,411.8,618.8,412.4,619.6,412.8C620.3,413.3,621.1,413.6,621.9,413.9C622.7,414.2,623.5,414.4,624.3,414.5C625.1,414.6,625.9,414.6,626.7,414.6C627.4,414.6,628.2,414.5,629.0,414.4C629.8,414.3,630.6,414.2,631.4,414.0C632.2,413.9,633.0,413.7,633.8,413.6C634.5,413.4,635.3,413.2,636.1,412.9C636.9,412.7,637.7,412.4,638.5,412.0C639.3,411.6,640.1,411.1,640.9,410.5C641.6,409.9,642.4,409.2,643.2,408.6C644.0,408.0,644.8,407.4,645.6,406.9C646.4,406.4,647.2,406.1,648.0,405.9C648.7,405.6,649.5,405.5,650.3,405.5C651.1,405.5,651.9,405.6,652.7,405.7C653.5,405.9,654.3,406.1,655.1,406.4C655.8,406.7,656.6,407.0,657.4,407.3C658.2,407.7,659.0,408.0,659.8,408.4C660.6,408.7,661.4,409.0,662.2,409.3C662.9,409.7,663.7,409.9,664.5,410.2C665.3,410.4,666.1,410.7,666.9,410.9C667.7,411.1,668.5,411.2,669.3,411.3C670.0,411.4,670.8,411.4,671.6,411.2C672.4,411.0,673.2,410.6,674.0,409.9C674.8,409.2,675.6,408.3,676.4,407.1C677.2,405.9,677.9,404.4,678.7,402.7C679.5,401.0,680.3,399.0,681.1,397.2C681.9,395.3,682.7,393.7,683.5,392.3C684.3,391.0,685.0,390.0,685.8,389.1C686.6,388.3,687.4,387.7,688.2,387.2C689.0,386.8,689.8,386.5,690.6,386.3C691.4,386.1,692.1,386.0,692.9,385.8C693.7,385.6,694.5,385.3,695.3,384.9C696.1,384.5,696.9,383.9,697.7,383.4C698.5,382.8,699.2,382.1,700.0,381.5C700.8,380.8,701.6,380.1,702.4,379.5C703.2,378.9,704.0,378.2,704.8,377.7C705.6,377.1,706.3,376.6,707.1,376.2C707.9,375.8,708.7,375.5,709.5,375.3C710.3,375.1,711.1,375.1,711.9,375.1C712.7,375.2,713.4,375.4,714.2,375.8C715.0,376.2,715.8,376.8,716.6,377.7C717.4,378.6,718.2,379.6,719.0,380.8C719.8,382.0,720.5,383.2,721.3,384.4C722.1,385.6,722.9,386.9,723.7,388.0C724.5,389.1,725.3,390.2,726.1,391.1C726.9,392.1,727.6,392.9,728.4,393.6C729.2,394.4,730.0,395.0,730.8,395.5C731.6,396.1,732.4,396.5,733.2,396.9C734.0,397.2,734.7,397.6,735.5,397.8C736.3,398.1,737.1,398.4,737.9,398.6C738.7,398.9,739.5,399.1,740.3,399.4C741.1,399.7,741.8,400.1,742.6,400.4C743.4,400.8,744.2,401.2,745.0,401.7C745.8,402.1,746.6,402.5,747.4,402.9C748.2,403.3,749.0,403.7,749.7,404.0C750.5,404.3,751.3,404.6,752.1,404.8C752.9,405.0,753.7,405.1,754.5,405.1C755.3,405.1,756.1,405.1,756.8,404.7C757.6,404.4,758.4,403.9,759.2,403.1C760.0,402.3,760.8,401.2,761.6,399.9C762.4,398.6,763.2,397.1,763.9,395.4C764.7,393.7,765.5,391.9,766.3,390.0C767.1,388.2,767.9,386.3,768.7,384.4C769.5,382.5,770.3,380.6,771.0,378.8C771.8,377.0,772.6,375.4,773.4,373.9C774.2,372.4,775.0,371.1,775.8,370.0C776.6,368.9,777.4,368.0,778.1,367.4C778.9,366.7,779.7,366.3,780.5,366.2C781.3,366.1,782.1,366.4,782.9,367.0C783.7,367.6,784.5,368.5,785.2,369.6C786.0,370.8,786.8,372.1,787.6,373.4C788.4,374.7,789.2,376.0,790.0,377.2C790.8,378.3,791.6,379.4,792.3,380.2C793.1,381.1,793.9,381.8,794.7,382.2C795.5,382.6,796.3,382.7,797.1,381.0C797.9,379.3,798.7,375.8,799.4,370.1C800.2,364.3,801.0,356.4,801.8,348.4C802.6,340.3,803.4,332.3,804.2,325.4C805.0,318.6,805.8,313.0,806.5,308.8C807.3,304.5,808.1,301.7,808.9,300.1C809.7,298.5,810.5,298.2,811.3,299.4C812.1,300.6,812.9,303.3,813.6,307.0C814.4,310.7,815.2,315.4,816.0,320.3C816.8,325.2,817.6,330.3,818.4,334.9C819.2,339.6,820.0,343.9,820.8,347.5C821.5,351.1,822.3,354.1,823.1,356.4C823.9,358.8,824.7,360.6,825.5,362.1C826.3,363.5,827.1,364.6,827.9,365.1C828.6,365.6,829.4,365.4,830.2,365.0C831.0,364.6,831.8,364.0,832.6,363.5C833.4,363.0,834.2,362.6,835.0,362.5C835.7,362.4,836.5,362.6,837.3,362.9C838.1,363.3,838.9,363.8,839.7,364.8C840.5,365.7,841.3,367.1,842.1,368.6C842.8,370.2,843.6,372.0,844.4,373.6C845.2,375.2,846.0,376.7,846.8,377.8C847.6,379.0,848.4,379.9,849.2,380.5C849.9,381.1,850.7,381.5,851.5,381.6C852.3,381.7,853.1,381.5,853.9,381.0C854.7,380.4,855.5,379.6,856.3,378.5C857.0,377.5,857.8,376.1,858.6,374.8C859.4,373.5,860.2,372.2,861.0,371.1C861.8,370.1,862.6,369.3,863.4,368.9C864.1,368.6,864.9,368.6,865.7,369.0C866.5,369.4,867.3,370.3,868.1,371.6C868.9,373.0,869.7,374.8,870.5,376.7C871.2,378.6,872.0,380.6,872.8,382.5C873.6,384.4,874.4,386.2,875.2,388.1C876.0,389.9,876.8,391.7,877.6,393.5C878.3,395.2,879.1,396.8,879.9,398.3C880.7,399.7,881.5,401.0,882.3,402.1C883.1,403.2,883.9,404.1,884.7,404.8C885.4,405.6,886.2,406.1,887.0,406.6C887.8,407.0,888.6,407.4,889.4,407.6C890.2,407.8,891.0,407.9,891.8,407.9C892.5,407.9,893.3,407.7,894.1,407.4C894.9,407.1,895.7,406.6,896.5,406.1C897.3,405.6,898.1,405.0,898.9,404.3C899.7,403.6,900.4,402.9,901.2,402.2C902.0,401.4,902.8,400.7,903.6,399.9C904.4,399.2,905.2,398.4,906.0,397.7C906.8,397.0,907.5,396.3,908.3,395.7C909.1,395.0,909.9,394.5,910.7,393.9C911.5,393.4,912.3,392.9,913.1,392.5C913.9,392.1,914.6,391.8,915.4,391.7C916.2,391.5,917.0,391.4,917.8,391.6C918.6,391.8,919.4,392.1,920.2,392.9C921.0,393.6,921.7,394.6,922.5,396.0C923.3,397.3,924.1,398.9,924.9,400.7C925.7,402.5,926.5,404.5,927.3,406.6C928.1,408.7,928.8,411.0,929.6,413.3C930.4,415.6,931.2,418.0,931.6,419.2C932.0,420.4,932.0,420.4,932.0,420.4"/>
<path class="line" stroke="red" d="M42.0,431.9C42.0,431.9,42.0,431.9,42.4,431.8C42.8,431.8,43.6,431.6,44.4,431.5C45.2,431.3,45.9,431.1,46.7,430.9C47.5,430.7,48.3,430.5,49.1,430.3C49.9,430.1,50.7,430.0,51.5,429.9C52.3,429.9,53.0,429.8,53.8,429.8C54.6,429.8,55.4,429.9,56.2,429.9C57.0,430.0,57.8,430.1,58.6,430.2C59.4,430.3,60.1,430.4,60.9,430.6C61.7,430.8,62.5,430.9,63.3,431.1C64.1,431.3,64.9,431.5,65.7,431.6C66.5,431.8,67.2,431.8,68.0,431.8C68.8,431.8,69.6,431.7,70.4,431.5C71.2,431.4,72.0,431.1,72.8,430.8C73.6,430.5,74.3,430.2,75.1,429.9C75.9,429.5,76.7,429.2,77.5,429.0C78.3,428.8,79.1,428.6,79.9,428.6C80.7,428.6,81.5,428.7,82.2,428.9C83.0,429.2,83.8,429.5,84.6,429.8C85.4,430.2,86.2,430.6,87.0,431.0C87.8,431.4,88.6,431.7,89.3,432.1C90.1,432.4,90.9,432.8,91.7,433.1C92.5,433.4,93.3,433.6,94.1,433.9C94.9,434.1,95.7,434.3,96.4,434.5C97.2,434.6,98.0,434.7,98.8,434.8C99.6,434.9,100.4,434.9,101.2,435.0C102.0,435.0,102.8,435.0,103.5,435.0C104.3,435.0,105.1,434.9,105.9,434.9C106.7,434.9,107.5,434.9,108.3,434.9C109.1,434.9,109.9,434.9,110.6,434.9C111.4,434.9,112.2,434.8,113.0,434.8C113.8,434.7,114.6,434.6,115.4,434.4C116.2,434.2,117.0,434.0,117.7,433.8C118.5,433.5,119.3,433.2,120.1,432.8C120.9,432.5,121.7,432.1,122.5,431.7C123.3,431.3,124.1,431.0,124.8,430.7C125.6,430.3,126.4,430.1,127.2,429.9C128.0,429.7,128.8,429.6,129.6,429.5C130.4,429.4,131.2,429.4,131.9,429.4C132.7,429.4,133.5,429.5,134.3,429.6C135.1,429.6,135.9,429.8,136.7,429.9C137.5,430.1,138.3,430.3,139.0,430.5C139.8,430.7,140.6,430.9,141.4,431.1C142.2,431.4,143.0,431.6,143.8,431.9C144.6,432.1,145.4,432.4,146.1,432.6C146.9,432.8,147.7,433.1,148.5,433.3C149.3,433.5,150.1,433.7,150.9,433.9C151.7,434.1,152.5,434.3,153.2,434.5C154.0,434.7,154.8,434.9,155.6,435.0C156.4,435.2,157.2,435.3,158.0,435.5C158.8,435.6,159.6,435.7,160.4,435.8C161.1,435.9,161.9,436.0,162.7,436.0C163.5,436.0,164.3,436.0,165.1,436.0C165.9,436.0,166.7,435.9,167.5,435.8C168.2,435.6,169.0,435.5,169.8,435.3C170.6,435.0,171.4,434.8,172.2,434.5C173.0,434.2,173.8,433.8,174.6,433.5C175.3,433.1,176.1,432.7,176.9,432.3C177.7,431.9,178.5,431.5,179.3,431.1C180.1,430.7,180.9,430.4,181.7,430.1C182.4,429.9,183.2,429.6,184.0,429.5C184.8,429.3,185.6,429.2,186.4,428.9C187.2,428.7,188.0,428.5,188.8,428.1C189.5,427.7,190.3,427.3,191.1,426.5C191.9,425.7,192.7,424.6,193.5,422.7C194.3,420.8,195.1,418.2,195.9,414.6C196.6,411.1,197.4,406.6,198.2,401.7C199.0,396.8,199.8,391.4,200.6,385.7C201.4,379.9,202.2,373.9,203.0,367.2C203.7,360.5,204.5,353.1,205.3,345.7C206.1,338.4,206.9,331.1,207.7,325.2C208.5,319.2,209.3,314.6,210.1,311.9C210.8,309.2,211.6,308.4,212.4,309.9C213.2,311.4,214.0,315.1,214.8,320.9C215.6,326.7,216.4,334.5,217.2,342.8C217.9,351.1,218.7,359.8,219.5,367.9C220.3,376.0,221.1,383.4,221.9,389.8C222.7,396.1,223.5,401.3,224.3,405.4C225.0,409.4,225.8,412.2,226.6,414.1C227.4,416.0,228.2,417.0,229.0,417.8C229.8,418.5,230.6,419.0,231.4,419.5C232.2,419.9,232.9,420.3,233.7,420.6C234.5,420.9,235.3,421.1,236.1,421.3C236.9,421.5,237.7,421.7,238.5,421.7C239.3,421.8,240.0,421.8,240.8,421.8C241.6,421.7,242.4,421.6,243.2,421.4C244.0,421.2,244.8,421.0,245.6,420.9C246.4,420.7,247.1,420.6,247.9,420.6C248.7,420.6,249.5,420.8,250.3,421.1C251.1,421.5,251.9,422.0,252.7,422.5C253.5,423.1,254.2,423.7,255.0,424.4C255.8,425.0,256.6,425.6,257.4,426.1C258.2,426.7,259.0,427.2,259.8,427.5C260.6,427.9,261.3,428.2,262.1,428.4C262.9,428.6,263.7,428.7,264.5,428.8C265.3,428.8,266.1,428.9,266.9,428.9C267.7,429.0,268.4,429.0,269.2,429.1C270.0,429.2,270.8,429.3,271.6,429.4C272.4,429.5,273.2,429.7,274.0,429.8C274.8,429.9,275.5,430.1,276.3,430.2C277.1,430.4,277.9,430.5,278.7,430.6C279.5,430.7,280.3,430.8,281.1,430.9C281.9,431.0,282.6,431.1,283.4,431.2C284.2,431.2,285.0,431.3,285.8,431.4C286.6,431.5,287.4,431.5,288.2,431.6C289.0,431.7,289.7,431.8,290.5,431.9C291.3,432.0,292.1,432.2,292.9,432.3C293.7,432.4,294.5,432.6,295.3,432.7C296.1,432.9,296.8,433.0,297.6,433.2C298.4,433.3,299.2,433.4,300.0,433.6C300.8,433.7,301.6,433.8,302.4,433.9C303.2,434.0,304.0,434.1,304.7,434.2C305.5,434.3,306.3,434.3,307.1,434.4C307.9,434.4,308.7,434.5,309.5,434.5C310.3,434.5,311.1,434.5,311.8,434.5C312.6,434.5,313.4,434.5,314.2,434.4C315.0,434.4,315.8,434.4,316.6,434.3C317.4,434.2,318.2,434.2,318.9,434.1C319.7,434.1,320.5,434.0,321.3,433.9C322.1,433.9,322.9,433.9,323.7,433.8C324.5,433.8,325.3,433.8,326.0,433.8C326.8,433.8,327.6,433.8,328.4,433.9C329.2,433.9,330.0,434.0,330.8,434.1C331.6,434.1,332.4,434.2,333.1,434.3C333.9,434.4,334.7,434.5,335.5,434.6C336.3,434.7,337.1,434.8,337.9,434.9C338.7,435.0,339.5,435.0,340.2,435.1C341.0,435.2,341.8,435.3,342.6,435.4C343.4,435.4,344.2,435.5,345.0,435.5C345.8,435.6,346.6,435.7,347.3,435.7C348.1,435.7,348.9,435.8,349.7,435.8C350.5,435.8,351.3,435.9,352.1,435.9C352.9,435.9,353.7,435.9,354.4,435.9C355.2,435.9,356.0,435.9,356.8,435.9C357.6,435.9,358.4,435.8,359.2,435.8C360.0,435.8,360.8,435.7,361.5,435.6C362.3,435.6,363.1,435.5,363.9,435.4C364.7,435.4,365.5,435.3,366.3,435.2C367.1,435.1,367.9,435.1,368.6,435.0C369.4,435.0,370.2,434.9,371.0,434.9C371.8,434.9,372.6,434.9,373.4,434.9C374.2,434.9,375.0,435.0,375.8,435.0C376.5,435.1,377.3,435.2,378.1,435.3C378.9,435.4,379.7,435.4,380.5,435.5C381.3,435.6,382.1,435.7,382.9,435.8C383.6,435.9,384.4,436.0,385.2,436.0C386.0,436.1,386.8,436.1,387.6,436.1C388.4,436.2,389.2,436.2,390.0,436.1C390.7,436.1,391.5,436.1,392.3,436.1C393.1,436.0,393.9,436.0,394.7,436.0C395.5,435.9,396.3,435.9,397.1,435.8C397.8,435.8,398.6,435.8,399.4,435.8C400.2,435.8,401.0,435.8,401.8,435.8C402.6,435.9,403.4,435.9,404.2,436.0C404.9,436.0,405.7,436.1,406.5,436.1C407.3,436.2,408.1,436.3,408.9,436.4C409.7,436.5,410.5,436.5,411.3,436.6C412.0,436.7,412.8,436.8,413.6,436.8C414.4,436.9,415.2,436.9,416.0,437.0C416.8,437.0,417.6,437.0,418.4,437.0C419.1,437.1,419.9,437.1,420.7,437.1C421.5,437.0,422.3,437.0,423.1,437.0C423.9,437.0,424.7,436.9,425.5,436.9C426.2,436.8,427.0,436.8,427.8,436.7C428.6,436.7,429.4,436.6,430.2,436.5C431.0,436.4,431.8,436.4,432.6,436.3C433.3,436.2,434.1,436.1,434.9,436.0C435.7,435.9,436.5,435.9,437.3,435.8C438.1,435.7,438.9,435.7,439.7,435.6C440.4,435.6,441.2,435.5,442.0,435.5C442.8,435.5,443.6,435.5,444.4,435.5C445.2,435.5,446.0,435.6,446.8,435.7C447.5,435.7,448.3,435.8,449.1,435.9C449.9,436.1,450.7,436.2,451.5,436.4C452.3,436.6,453.1,436.8,453.9,437.0C454.7,437.1,455.4,437.3,456.2,437.5C457.0,437.6,457.8,437.7,458.6,437.7C459.4,437.8,460.2,437.8,461.0,437.8C461.8,437.7,462.5,437.7,463.3,437.6C464.1,437.5,464.9,437.4,465.7,437.3C466.5,437.2,467.3,437.0,468.1,436.9C468.9,436.8,469.6,436.7,470.4,436.6C471.2,436.5,472.0,436.5,472.8,436.4C473.6,436.4,474.4,436.4,475.2,436.4C476.0,436.3,476.7,436.3,477.5,436.3C478.3,436.3,479.1,436.3,479.9,436.3C480.7,436.3,481.5,436.3,482.3,436.2C483.1,436.2,483.8,436.2,484.6,436.2C485.4,436.1,486.2,436.1,487.0,436.1C487.8,436.1,488.6,436.1,489.4,436.1C490.2,436.1,490.9,436.1,491.7,436.1C492.5,436.2,493.3,436.2,494.1,436.2C494.9,436.2,495.7,436.2,496.5,436.1C497.3,436.0,498.0,435.8,498.8,435.1C499.6,434.4,500.4,433.3,501.2,430.8C502.0,428.2,502.8,424.3,503.6,418.8C504.4,413.4,505.1,406.5,505.9,399.5C506.7,392.5,507.5,385.4,508.3,378.1C509.1,370.9,509.9,363.6,510.7,356.6C511.5,349.6,512.2,342.9,513.0,336.8C513.8,330.8,514.6,325.5,515.4,323.0C516.2,320.6,517.0,321.0,517.8,324.2C518.6,327.3,519.3,333.1,520.1,339.6C520.9,346.0,521.7,353.1,522.5,360.0C523.3,366.9,524.1,373.7,524.9,379.3C525.7,385.0,526.5,389.6,527.2,393.4C528.0,397.2,528.8,400.3,529.6,403.1C530.4,405.9,531.2,408.4,532.0,410.6C532.8,412.8,533.6,414.7,534.3,416.4C535.1,418.1,535.9,419.7,536.7,421.0C537.5,422.4,538.3,423.6,539.1,424.6C539.9,425.6,540.7,426.4,541.4,427.1C542.2,427.8,543.0,428.3,543.8,428.8C544.6,429.2,545.4,429.7,546.2,430.0C547.0,430.4,547.8,430.8,548.5,431.0C549.3,431.3,550.1,431.5,550.9,431.6C551.7,431.8,552.5,431.8,553.3,431.9C554.1,431.9,554.9,431.8,555.6,431.8C556.4,431.7,557.2,431.6,558.0,431.6C558.8,431.5,559.6,431.4,560.4,431.4C561.2,431.4,562.0,431.4,562.7,431.4C563.5,431.5,564.3,431.6,565.1,431.7C565.9,431.8,566.7,432.0,567.5,432.1C568.3,432.1,569.1,432.2,569.8,432.2C570.6,432.2,571.4,432.1,572.2,432.0C573.0,431.9,573.8,431.8,574.6,431.6C575.4,431.5,576.2,431.4,576.9,431.4C577.7,431.4,578.5,431.4,579.3,431.4C580.1,431.5,580.9,431.6,581.7,431.8C582.5,431.9,583.3,432.0,584.0,432.2C584.8,432.3,585.6,432.5,586.4,432.6C587.2,432.8,588.0,432.9,588.8,432.9C589.6,433.0,590.4,433.0,591.1,433.0C591.9,433.0,592.7,433.0,593.5,432.9C594.3,432.8,595.1,432.6,595.9,432.5C596.7,432.3,597.5,432.2,598.2,432.1C599.0,431.9,599.8,431.8,600.6,431.8C601.4,431.8,602.2,431.8,603.0,431.9C603.8,432.0,604.6,432.1,605.4,432.3C606.1,432.5,606.9,432.7,607.7,433.0C608.5,433.2,609.3,433.5,610.1,433.7C610.9,434.0,611.7,434.3,612.5,434.5C613.2,434.7,614.0,435.0,614.8,435.1C615.6,435.3,616.4,435.5,617.2,435.6C618.0,435.7,618.8,435.8,619.6,435.7C620.3,435.7,621.1,435.7,621.9,435.6C622.7,435.5,623.5,435.4,624.3,435.3C625.1,435.2,625.9,435.2,626.7,435.4C627.4,435.5,628.2,435.7,629.0,435.9C629.8,436.0,630.6,436.0,631.4,434.8C632.2,433.5,633.0,431.0,633.8,426.6C634.5,422.2,635.3,416.0,636.1,407.9C636.9,399.8,637.7,389.9,638.5,378.0C639.3,366.0,640.1,352.1,640.9,337.0C641.6,321.9,642.4,305.7,643.2,290.3C644.0,274.9,644.8,260.3,645.6,248.3C646.4,236.3,647.2,226.9,648.0,222.5C648.7,218.0,649.5,218.5,650.3,223.0C651.1,227.6,651.9,236.1,652.7,245.9C653.5,255.6,654.3,266.5,655.1,277.4C655.8,288.3,656.6,299.2,657.4,309.1C658.2,319.0,659.0,327.9,659.8,335.5C660.6,343.1,661.4,349.5,662.2,354.7C662.9,360.0,663.7,364.2,664.5,367.6C665.3,371.0,666.1,373.6,666.9,376.1C667.7,378.5,668.5,380.8,669.3,382.9C670.0,384.9,670.8,386.6,671.6,388.1C672.4,389.5,673.2,390.8,674.0,391.7C674.8,392.6,675.6,393.3,676.4,393.5C677.2,393.8,677.9,393.6,678.7,393.1C679.5,392.7,680.3,391.9,681.1,391.1C681.9,390.3,682.7,389.4,683.5,388.6C684.3,387.9,685.0,387.3,685.8,386.9C686.6,386.5,687.4,386.3,688.2,386.2C689.0,386.1,689.8,386.1,690.6,386.1C691.4,386.1,692.1,386.1,692.9,385.9C693.7,385.6,694.5,385.2,695.3,384.5C696.1,383.9,696.9,382.9,697.7,381.9C698.5,381.0,699.2,380.0,700.0,379.1C700.8,378.3,701.6,377.5,702.4,377.1C703.2,376.6,704.0,376.4,704.8,376.6C705.6,376.8,706.3,377.6,707.1,378.7C707.9,379.9,708.7,381.4,709.5,383.0C710.3,384.7,711.1,386.4,711.9,388.0C712.7,389.6,713.4,391.1,714.2,392.5C715.0,393.9,715.8,395.2,716.6,396.3C717.4,397.5,718.2,398.6,719.0,399.6C719.8,400.6,720.5,401.6,721.3,402.6C722.1,403.7,722.9,404.7,723.7,405.7C724.5,406.7,725.3,407.7,726.1,408.7C726.9,409.8,727.6,410.8,728.4,411.8C729.2,412.8,730.0,413.7,730.8,414.6C731.6,415.5,732.4,416.4,733.2,417.2C734.0,418.0,734.7,418.7,735.5,419.3C736.3,420.0,737.1,420.6,737.9,421.1C738.7,421.7,739.5,422.1,740.3,422.6C741.1,423.0,741.8,423.3,742.6,423.7C743.4,424.0,744.2,424.3,745.0,424.6C745.8,424.9,746.6,425.1,747.4,425.3C748.2,425.6,749.0,425.8,749.7,426.0C750.5,426.2,751.3,426.5,752.1,426.7C752.9,426.9,753.7,427.1,754.5,427.3C755.3,427.5,756.1,427.6,756.8,427.8C757.6,427.9,758.4,428.0,759.2,428.0C760.0,428.0,760.8,427.9,761.6,427.7C762.4,427.4,763.2,427.1,763.9,426.8C764.7,426.5,765.5,426.1,766.3,425.8C767.1,425.5,767.9,425.2,768.7,424.9C769.5,424.7,770.3,424.6,771.0,424.5C771.8,424.4,772.6,424.3,773.4,424.3C774.2,424.3,775.0,424.3,775.8,424.2C776.6,424.2,777.4,424.1,778.1,423.8C778.9,423.6,779.7,423.2,780.5,422.4C781.3,421.7,782.1,420.6,782.9,419.1C783.7,417.5,784.5,415.5,785.2,413.3C786.0,411.1,786.8,408.7,787.6,406.3C788.4,403.9,789.2,401.4,790.0,398.7C790.8,396.0,791.6,393.1,792.3,390.0C793.1,386.8,793.9,383.6,794.7,380.8C795.5,377.9,796.3,375.6,797.1,373.9C797.9,372.2,798.7,371.2,799.4,371.3C800.2,371.5,801.0,372.7,801.8,374.7C802.6,376.8,803.4,379.5,804.2,382.6C805.0,385.8,805.8,389.2,806.5,392.4C807.3,395.6,808.1,398.7,808.9,401.3C809.7,403.9,810.5,406.0,811.3,407.7C812.1,409.5,812.9,410.8,813.6,411.9C814.4,412.9,815.2,413.7,816.0,414.4C816.8,415.0,817.6,415.5,818.4,415.8C819.2,416.1,820.0,416.3,820.8,416.4C821.5,416.5,822.3,416.6,823.1,416.7C823.9,416.7,824.7,416.8,825.5,417.0C826.3,417.2,827.1,417.4,827.9,417.7C828.6,418.0,829.4,418.4,830.2,418.8C831.0,419.2,831.8,419.7,832.6,420.0C833.4,420.4,834.2,420.7,835.0,420.9C835.7,421.2,836.5,421.3,837.3,421.5C838.1,421.6,838.9,421.7,839.7,421.8C840.5,421.9,841.3,422.0,842.1,422.0C842.8,422.1,843.6,422.1,844.4,422.1C845.2,422.1,846.0,422.1,846.8,422.1C847.6,422.0,848.4,421.9,849.2,421.8C849.9,421.8,850.7,421.6,851.5,421.5C852.3,421.3,853.1,421.2,853.9,421.0C854.7,420.8,855.5,420.6,856.3,420.3C857.0,420.1,857.8,419.8,858.6,419.5C859.4,419.2,860.2,418.8,861.0,418.6C861.8,418.3,862.6,418.0,863.4,418.0C864.1,417.9,864.9,418.1,865.7,418.5C866.5,418.9,867.3,419.5,868.1,420.2C868.9,420.9,869.7,421.8,870.5,422.6C871.2,423.4,872.0,424.3,872.8,424.9C873.6,425.6,874.4,426.2,875.2,426.6C876.0,427.0,876.8,427.3,877.6,427.6C878.3,427.9,879.1,428.1,879.9,428.4C880.7,428.6,881.5,428.9,882.3,429.1C883.1,429.4,883.9,429.6,884.7,429.9C885.4,430.1,886.2,430.4,887.0,430.6C887.8,430.8,888.6,430.9,889.4,431.1C890.2,431.3,891.0,431.4,891.8,431.5C892.5,431.6,893.3,431.6,894.1,431.7C894.9,431.7,895.7,431.7,896.5,431.7C897.3,431.6,898.1,431.6,898.9,431.5C899.7,431.4,900.4,431.3,901.2,431.2C902.0,431.0,902.8,430.9,903.6,430.8C904.4,430.7,905.2,430.5,906.0,430.4C906.8,430.3,907.5,430.2,908.3,430.1C909.1,430.0,909.9,430.0,910.7,429.9C911.5,429.9,912.3,429.8,913.1,429.8C913.9,429.8,914.6,429.8,915.4,429.8C916.2,429.9,917.0,429.9,917.8,430.0C918.6,430.1,919.4,430.3,920.2,430.5C921.0,430.7,921.7,430.9,922.5,431.2C923.3,431.5,924.1,431.8,924.9,432.1C925.7,432.4,926.5,432.7,927.3,433.1C928.1,433.4,928.8,433.7,929.6,434.0C930.4,434.3,931.2,434.6,931.6,434.8C932.0,434.9,932.0,434.9,932.0,434.9"/>
<g class="x axis">
<g><line x1="98.5" x2="98.5" y1="439" y2="445"/><text x="98.51" y="455.0" text-anchor="middle">Apr <tspan>26</tspan></text></g>
<g><line x1="165.5" x2="165.5" y1="439" y2="445"/><text x="164.79" y="455.0" text-anchor="middle">May <tspan>03</tspan></text></g>
<g><line x1="231.5" x2="231.5" y1="439" y2="445"/><text x="231.06" y="455.0" text-anchor="middle">May <tspan>10</tspan></text></g>
<g><line x1="297.5" x2="297.5" y1="439" y2="445"/><text x="297.34" y="455.0" text-anchor="middle">May <tspan>17</tspan></text></g>
<g><line x1="363.5" x2="363.5" y1="439" y2="445"/><text x="363.61" y="455.0" text-anchor="middle">May <tspan>24</tspan></text></g>
<g><line x1="430.5" x2="430.5" y1="439" y2="445"/><text x="429.89" y="455.0" text-anchor="middle">May <tspan>31</tspan></text></g>
<g><line x1="496.5" x2="496.5" y1="439" y2="445"/><text x="496.17" y="455.0" text-anchor="middle">Jun <tspan>07</tspan></text></g>
<g><line x1="562.5" x2="562.5" y1="439" y2="445"/><text x="562.44" y="455.0" text-anchor="middle">Jun <tspan>14</tspan></text></g>
<g><line x1="629.5" x2="629.5" y1="439" y2="445"/><text x="628.72" y="455.0" text-anchor="middle">Jun <tspan>21</tspan></text></g>
<g><line x1="695.5" x2="695.5" y1="439" y2="445"/><text x="695.00" y="455.0" text-anchor="middle">Jun <tspan>28</tspan></text></g>
<g><line x1="761.5" x2="761.5" y1="439" y2="445"/><text x="761.27" y="455.0" text-anchor="middle">Jul <tspan>05</tspan></text></g>
<g><line x1="827.5" x2="827.5" y1="439" y2="445"/><text x="827.55" y="455.0" text-anchor="middle">Jul <tspan>12</tspan></text></g>
<g><line x1="894.5" x2="894.5" y1="439" y2="445"/><text x="893.83" y="455.0" text-anchor="middle">Jul <tspan>19</tspan></text></g>
</g>
<g class="y axis">
<g><line x1="36" x2="42" y1="391.5" y2="391.5"/><text x="33.14" y="394.00" text-anchor="end">200</text></g>
<g><line x1="36" x2="42" y1="342.5" y2="342.5"/><text x="33.14" y="346.00" text-anchor="end">400</text></g>
<g><line x1="36" x2="42" y1="294.5" y2="294.5"/><text x="33.14" y="297.00" text-anchor="end">600</text></g>
<g><line x1="36" x2="42" y1="245.5" y2="245.5"/><text x="33.14" y="249.00" text-anchor="end">800</text></g>
<g><line x1="36" x2="42" y1="197.5" y2="197.5"/><text x="33.14" y="200.00" text-anchor="end">1,000</text></g>
<g><line x1="36" x2="42" y1="148.5" y2="148.5"/><text x="33.14" y="152.00" text-anchor="end">1,200</text></g>
<g><line x1="36" x2="42" y1="100.5" y2="100.5"/><text x="33.14" y="104.00" text-anchor="end">1,400</text></g>
<g><line x1="36" x2="42" y1="51.5" y2="51.5"/><text x="33.14" y="55.00" text-anchor="end">1,600</text></g>
<path d="M36,9.5H42.5V439.5H36"/>
</g>
</svg>
</body></html>
